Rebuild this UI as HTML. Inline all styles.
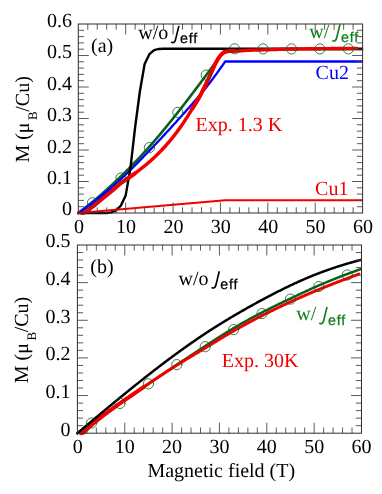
<!DOCTYPE html>
<html><head><meta charset="utf-8"><title>chart</title>
<style>html,body{margin:0;padding:0;background:#fff}body{width:382px;height:494px;overflow:hidden;font-family:"Liberation Serif",serif}</style>
</head><body>
<svg width="382" height="494" viewBox="0 0 382 494" style="display:block;will-change:transform;text-rendering:geometricPrecision">
<rect width="382" height="494" fill="#fff"/>
<defs>
<clipPath id="ca"><rect x="75.8" y="24.0" width="287.3" height="191.5"/></clipPath>
<clipPath id="cb"><rect x="74.9" y="245.0" width="287.1" height="190.7"/></clipPath>
</defs>
<g clip-path="url(#ca)" fill="none" stroke-linejoin="round" stroke-linecap="round">
<path d="M78.30 213.00 L78.77 212.65 L79.25 212.30 L79.72 211.94 L80.20 211.59 L80.67 211.23 L81.14 210.88 L81.62 210.52 L82.09 210.16 L82.56 209.80 L83.04 209.44 L83.51 209.08 L83.99 208.71 L84.46 208.35 L84.93 207.98 L85.41 207.62 L85.88 207.25 L86.36 206.88 L86.83 206.50 L87.30 206.13 L87.78 205.75 L88.25 205.38 L88.72 205.00 L89.20 204.62 L89.67 204.24 L90.15 203.85 L90.62 203.47 L91.09 203.08 L91.57 202.69 L92.04 202.30 L92.52 201.91 L92.99 201.52 L93.46 201.12 L93.94 200.73 L94.41 200.33 L94.88 199.93 L95.36 199.53 L95.83 199.13 L96.31 198.73 L96.78 198.33 L97.25 197.92 L97.73 197.52 L98.20 197.11 L98.67 196.70 L99.15 196.29 L99.62 195.88 L100.10 195.47 L100.57 195.06 L101.04 194.64 L101.52 194.23 L101.99 193.81 L102.47 193.40 L102.94 192.98 L103.41 192.56 L103.89 192.14 L104.36 191.72 L104.83 191.29 L105.31 190.87 L105.78 190.45 L106.26 190.02 L106.73 189.59 L107.20 189.16 L107.68 188.74 L108.15 188.31 L108.63 187.87 L109.10 187.44 L109.57 187.01 L110.05 186.57 L110.52 186.14 L110.99 185.70 L111.47 185.26 L111.94 184.83 L112.42 184.39 L112.89 183.95 L113.36 183.50 L113.84 183.06 L114.31 182.62 L114.79 182.17 L115.26 181.73 L115.73 181.28 L116.21 180.83 L116.68 180.38 L117.15 179.93 L117.63 179.48 L118.10 179.03 L118.58 178.58 L119.05 178.13 L119.52 177.67 L120.00 177.22 L120.47 176.76 L120.94 176.30 L121.42 175.84 L121.89 175.38 L122.37 174.92 L122.84 174.46 L123.31 174.00 L123.79 173.53 L124.26 173.07 L124.74 172.60 L125.21 172.14 L125.68 171.67 L126.16 171.20 L126.63 170.72 L127.10 170.25 L127.58 169.78 L128.05 169.30 L128.53 168.83 L129.00 168.35 L129.47 167.87 L129.95 167.39 L130.42 166.91 L130.90 166.43 L131.37 165.95 L131.84 165.46 L132.32 164.98 L132.79 164.49 L133.26 164.00 L133.74 163.51 L134.21 163.02 L134.69 162.53 L135.16 162.04 L135.63 161.54 L136.11 161.05 L136.58 160.55 L137.06 160.05 L137.53 159.56 L138.00 159.06 L138.48 158.55 L138.95 158.05 L139.42 157.55 L139.90 157.04 L140.37 156.54 L140.85 156.03 L141.32 155.52 L141.79 155.01 L142.27 154.50 L142.74 153.99 L143.22 153.48 L143.69 152.96 L144.16 152.45 L144.64 151.93 L145.11 151.41 L145.58 150.89 L146.06 150.37 L146.53 149.85 L147.01 149.33 L147.48 148.80 L147.95 148.28 L148.43 147.75 L148.90 147.22 L149.38 146.69 L149.85 146.16 L150.32 145.63 L150.80 145.09 L151.27 144.56 L151.74 144.02 L152.22 143.48 L152.69 142.94 L153.17 142.39 L153.64 141.85 L154.11 141.30 L154.59 140.75 L155.06 140.20 L155.53 139.65 L156.01 139.09 L156.48 138.54 L156.96 137.98 L157.43 137.42 L157.90 136.86 L158.38 136.30 L158.85 135.74 L159.33 135.17 L159.80 134.61 L160.27 134.04 L160.75 133.47 L161.22 132.90 L161.69 132.33 L162.17 131.76 L162.64 131.19 L163.12 130.61 L163.59 130.03 L164.06 129.46 L164.54 128.88 L165.01 128.30 L165.49 127.72 L165.96 127.14 L166.43 126.56 L166.91 125.98 L167.38 125.39 L167.85 124.81 L168.33 124.22 L168.80 123.64 L169.28 123.05 L169.75 122.46 L170.22 121.87 L170.70 121.28 L171.17 120.69 L171.65 120.10 L172.12 119.51 L172.59 118.92 L173.07 118.33 L173.54 117.74 L174.01 117.15 L174.49 116.55 L174.96 115.96 L175.44 115.36 L175.91 114.77 L176.38 114.17 L176.86 113.58 L177.33 112.98 L177.81 112.39 L178.28 111.79 L178.75 111.20 L179.23 110.60 L179.70 110.00 L180.17 109.40 L180.65 108.79 L181.12 108.19 L181.60 107.58 L182.07 106.98 L182.54 106.37 L183.02 105.76 L183.49 105.16 L183.96 104.55 L184.44 103.93 L184.91 103.32 L185.39 102.71 L185.86 102.10 L186.33 101.48 L186.81 100.86 L187.28 100.25 L187.76 99.63 L188.23 99.01 L188.70 98.39 L189.18 97.77 L189.65 97.15 L190.12 96.53 L190.60 95.91 L191.07 95.28 L191.55 94.66 L192.02 94.04 L192.49 93.41 L192.97 92.79 L193.44 92.16 L193.92 91.53 L194.39 90.91 L194.86 90.28 L195.34 89.65 L195.81 89.02 L196.28 88.39 L196.76 87.76 L197.23 87.13 L197.71 86.50 L198.18 85.87 L198.65 85.24 L199.13 84.60 L199.60 83.97 L200.08 83.34 L200.55 82.71 L201.02 82.07 L201.50 81.44 L201.97 80.80 L202.44 80.17 L202.92 79.54 L203.39 78.90 L203.87 78.27 L204.34 77.63 L204.81 77.00 L205.29 76.36 L205.76 75.73 L206.24 75.09 L206.71 74.46 L207.18 73.82 L207.66 73.18 L208.13 72.55 L208.60 71.91 L209.08 71.27 L209.55 70.63 L210.03 69.99 L210.50 69.35 L210.97 68.71 L211.45 68.07 L211.92 67.42 L212.39 66.78 L212.87 66.14 L213.34 65.49 L213.82 64.85 L214.29 64.20 L214.76 63.55 L215.24 62.91 L215.71 62.26 L216.19 61.61 L216.66 60.96 L217.13 60.31 L217.61 59.66 L218.08 59.01 L218.55 58.36 L219.03 57.71 L219.50 57.06 L219.98 56.41 L220.45 55.75 L220.92 55.10 L221.40 54.45 L221.87 53.79 L222.35 53.14 L222.82 52.48 L223.29 51.83 L223.77 51.17 L224.24 50.51 L224.71 49.86 L225.19 49.20 L225.66 49.20 L226.14 49.20 L226.61 49.20 L227.08 49.20 L227.56 49.20 L228.03 49.20 L228.51 49.20 L228.98 49.20 L229.45 49.20 L229.93 49.20 L230.40 49.20 L230.87 49.20 L231.35 49.20 L231.82 49.20 L232.30 49.20 L232.77 49.20 L233.24 49.20 L233.72 49.20 L234.19 49.20 L234.67 49.20 L235.14 49.20 L235.61 49.20 L236.09 49.20 L236.56 49.20 L237.03 49.20 L237.51 49.20 L237.98 49.20 L238.46 49.20 L238.93 49.20 L239.40 49.20 L239.88 49.20 L240.35 49.20 L240.82 49.20 L241.30 49.20 L241.77 49.20 L242.25 49.20 L242.72 49.20 L243.19 49.20 L243.67 49.20 L244.14 49.20 L244.62 49.20 L245.09 49.20 L245.56 49.20 L246.04 49.20 L246.51 49.20 L246.98 49.20 L247.46 49.20 L247.93 49.20 L248.41 49.20 L248.88 49.20 L249.35 49.20 L249.83 49.20 L250.30 49.20 L250.78 49.20 L251.25 49.20 L251.72 49.20 L252.20 49.20 L252.67 49.20 L253.14 49.20 L253.62 49.20 L254.09 49.20 L254.57 49.20 L255.04 49.20 L255.51 49.20 L255.99 49.20 L256.46 49.20 L256.94 49.20 L257.41 49.20 L257.88 49.20 L258.36 49.20 L258.83 49.20 L259.30 49.20 L259.78 49.20 L260.25 49.20 L260.73 49.20 L261.20 49.20 L261.67 49.20 L262.15 49.20 L262.62 49.20 L263.09 49.20 L263.57 49.20 L264.04 49.20 L264.52 49.20 L264.99 49.20 L265.46 49.20 L265.94 49.20 L266.41 49.20 L266.89 49.20 L267.36 49.20 L267.83 49.20 L268.31 49.20 L268.78 49.20 L269.25 49.20 L269.73 49.20 L270.20 49.20 L270.68 49.20 L271.15 49.20 L271.62 49.20 L272.10 49.20 L272.57 49.20 L273.05 49.20 L273.52 49.20 L273.99 49.20 L274.47 49.20 L274.94 49.20 L275.41 49.20 L275.89 49.20 L276.36 49.20 L276.84 49.20 L277.31 49.20 L277.78 49.20 L278.26 49.20 L278.73 49.20 L279.21 49.20 L279.68 49.20 L280.15 49.20 L280.63 49.20 L281.10 49.20 L281.57 49.20 L282.05 49.20 L282.52 49.20 L283.00 49.20 L283.47 49.20 L283.94 49.20 L284.42 49.20 L284.89 49.20 L285.37 49.20 L285.84 49.20 L286.31 49.20 L286.79 49.20 L287.26 49.20 L287.73 49.20 L288.21 49.20 L288.68 49.20 L289.16 49.20 L289.63 49.20 L290.10 49.20 L290.58 49.20 L291.05 49.20 L291.52 49.20 L292.00 49.20 L292.47 49.20 L292.95 49.20 L293.42 49.20 L293.89 49.20 L294.37 49.20 L294.84 49.20 L295.32 49.20 L295.79 49.20 L296.26 49.20 L296.74 49.20 L297.21 49.20 L297.68 49.20 L298.16 49.20 L298.63 49.20 L299.11 49.20 L299.58 49.20 L300.05 49.20 L300.53 49.20 L301.00 49.20 L301.48 49.20 L301.95 49.20 L302.42 49.20 L302.90 49.20 L303.37 49.20 L303.84 49.20 L304.32 49.20 L304.79 49.20 L305.27 49.20 L305.74 49.20 L306.21 49.20 L306.69 49.20 L307.16 49.20 L307.64 49.20 L308.11 49.20 L308.58 49.20 L309.06 49.20 L309.53 49.20 L310.00 49.20 L310.48 49.20 L310.95 49.20 L311.43 49.20 L311.90 49.20 L312.37 49.20 L312.85 49.20 L313.32 49.20 L313.80 49.20 L314.27 49.20 L314.74 49.20 L315.22 49.20 L315.69 49.20 L316.16 49.20 L316.64 49.20 L317.11 49.20 L317.59 49.20 L318.06 49.20 L318.53 49.20 L319.01 49.20 L319.48 49.20 L319.95 49.20 L320.43 49.20 L320.90 49.20 L321.38 49.20 L321.85 49.20 L322.32 49.20 L322.80 49.20 L323.27 49.20 L323.75 49.20 L324.22 49.20 L324.69 49.20 L325.17 49.20 L325.64 49.20 L326.11 49.20 L326.59 49.20 L327.06 49.20 L327.54 49.20 L328.01 49.20 L328.48 49.20 L328.96 49.20 L329.43 49.20 L329.91 49.20 L330.38 49.20 L330.85 49.20 L331.33 49.20 L331.80 49.20 L332.27 49.20 L332.75 49.20 L333.22 49.20 L333.70 49.20 L334.17 49.20 L334.64 49.20 L335.12 49.20 L335.59 49.20 L336.07 49.20 L336.54 49.20 L337.01 49.20 L337.49 49.20 L337.96 49.20 L338.43 49.20 L338.91 49.20 L339.38 49.20 L339.86 49.20 L340.33 49.20 L340.80 49.20 L341.28 49.20 L341.75 49.20 L342.23 49.20 L342.70 49.20 L343.17 49.20 L343.65 49.20 L344.12 49.20 L344.59 49.20 L345.07 49.20 L345.54 49.20 L346.02 49.20 L346.49 49.20 L346.96 49.20 L347.44 49.20 L347.91 49.20 L348.38 49.20 L348.86 49.20 L349.33 49.20 L349.81 49.20 L350.28 49.20 L350.75 49.20 L351.23 49.20 L351.70 49.20 L352.18 49.20 L352.65 49.20 L353.12 49.20 L353.60 49.20 L354.07 49.20 L354.54 49.20 L355.02 49.20 L355.49 49.20 L355.97 49.20 L356.44 49.20 L356.91 49.20 L357.39 49.20 L357.86 49.20 L358.34 49.20 L358.81 49.20 L359.28 49.20 L359.76 49.20 L360.23 49.20 L360.70 49.20 L361.18 49.20 L361.65 49.20 L362.13 49.20 L362.60 49.20" stroke="#0b5f1e" stroke-width="2.6"/>
<path d="M78.30 213.00 L78.77 212.68 L79.25 212.35 L79.72 212.03 L80.20 211.70 L80.67 211.37 L81.14 211.04 L81.62 210.72 L82.09 210.38 L82.56 210.05 L83.04 209.72 L83.51 209.38 L83.99 209.05 L84.46 208.71 L84.93 208.37 L85.41 208.03 L85.88 207.69 L86.36 207.35 L86.83 207.01 L87.30 206.66 L87.78 206.32 L88.25 205.97 L88.72 205.62 L89.20 205.27 L89.67 204.91 L90.15 204.56 L90.62 204.20 L91.09 203.85 L91.57 203.49 L92.04 203.13 L92.52 202.76 L92.99 202.40 L93.46 202.03 L93.94 201.67 L94.41 201.30 L94.88 200.93 L95.36 200.56 L95.83 200.19 L96.31 199.82 L96.78 199.45 L97.25 199.07 L97.73 198.70 L98.20 198.32 L98.67 197.95 L99.15 197.57 L99.62 197.19 L100.10 196.81 L100.57 196.43 L101.04 196.05 L101.52 195.66 L101.99 195.28 L102.47 194.89 L102.94 194.51 L103.41 194.12 L103.89 193.73 L104.36 193.34 L104.83 192.95 L105.31 192.56 L105.78 192.17 L106.26 191.77 L106.73 191.38 L107.20 190.98 L107.68 190.58 L108.15 190.18 L108.63 189.78 L109.10 189.38 L109.57 188.98 L110.05 188.58 L110.52 188.17 L110.99 187.77 L111.47 187.36 L111.94 186.95 L112.42 186.54 L112.89 186.13 L113.36 185.72 L113.84 185.31 L114.31 184.90 L114.79 184.48 L115.26 184.07 L115.73 183.65 L116.21 183.23 L116.68 182.81 L117.15 182.39 L117.63 181.97 L118.10 181.54 L118.58 181.12 L119.05 180.69 L119.52 180.27 L120.00 179.84 L120.47 179.41 L120.94 178.98 L121.42 178.55 L121.89 178.11 L122.37 177.68 L122.84 177.24 L123.31 176.80 L123.79 176.36 L124.26 175.91 L124.74 175.47 L125.21 175.02 L125.68 174.57 L126.16 174.12 L126.63 173.66 L127.10 173.21 L127.58 172.75 L128.05 172.29 L128.53 171.83 L129.00 171.37 L129.47 170.91 L129.95 170.44 L130.42 169.98 L130.90 169.51 L131.37 169.04 L131.84 168.57 L132.32 168.10 L132.79 167.63 L133.26 167.15 L133.74 166.68 L134.21 166.20 L134.69 165.73 L135.16 165.25 L135.63 164.77 L136.11 164.29 L136.58 163.81 L137.06 163.33 L137.53 162.84 L138.00 162.36 L138.48 161.88 L138.95 161.39 L139.42 160.91 L139.90 160.42 L140.37 159.93 L140.85 159.45 L141.32 158.96 L141.79 158.47 L142.27 157.98 L142.74 157.49 L143.22 157.00 L143.69 156.52 L144.16 156.03 L144.64 155.54 L145.11 155.05 L145.58 154.55 L146.06 154.06 L146.53 153.57 L147.01 153.08 L147.48 152.59 L147.95 152.10 L148.43 151.61 L148.90 151.12 L149.38 150.63 L149.85 150.14 L150.32 149.65 L150.80 149.16 L151.27 148.66 L151.74 148.17 L152.22 147.68 L152.69 147.18 L153.17 146.69 L153.64 146.19 L154.11 145.69 L154.59 145.20 L155.06 144.70 L155.53 144.20 L156.01 143.70 L156.48 143.20 L156.96 142.70 L157.43 142.20 L157.90 141.70 L158.38 141.20 L158.85 140.69 L159.33 140.19 L159.80 139.69 L160.27 139.18 L160.75 138.67 L161.22 138.17 L161.69 137.66 L162.17 137.15 L162.64 136.65 L163.12 136.14 L163.59 135.63 L164.06 135.12 L164.54 134.61 L165.01 134.10 L165.49 133.59 L165.96 133.07 L166.43 132.56 L166.91 132.05 L167.38 131.53 L167.85 131.02 L168.33 130.50 L168.80 129.99 L169.28 129.47 L169.75 128.95 L170.22 128.44 L170.70 127.92 L171.17 127.40 L171.65 126.88 L172.12 126.36 L172.59 125.84 L173.07 125.32 L173.54 124.80 L174.01 124.27 L174.49 123.75 L174.96 123.23 L175.44 122.70 L175.91 122.18 L176.38 121.65 L176.86 121.13 L177.33 120.60 L177.81 120.08 L178.28 119.55 L178.75 119.02 L179.23 118.50 L179.70 117.97 L180.17 117.44 L180.65 116.92 L181.12 116.39 L181.60 115.87 L182.07 115.34 L182.54 114.82 L183.02 114.29 L183.49 113.76 L183.96 113.24 L184.44 112.71 L184.91 112.18 L185.39 111.66 L185.86 111.13 L186.33 110.60 L186.81 110.07 L187.28 109.54 L187.76 109.01 L188.23 108.48 L188.70 107.95 L189.18 107.42 L189.65 106.88 L190.12 106.35 L190.60 105.82 L191.07 105.28 L191.55 104.74 L192.02 104.21 L192.49 103.67 L192.97 103.13 L193.44 102.58 L193.92 102.04 L194.39 101.50 L194.86 100.95 L195.34 100.41 L195.81 99.86 L196.28 99.31 L196.76 98.76 L197.23 98.20 L197.71 97.65 L198.18 97.09 L198.65 96.53 L199.13 95.97 L199.60 95.41 L200.08 94.85 L200.55 94.28 L201.02 93.71 L201.50 93.14 L201.97 92.57 L202.44 92.00 L202.92 91.42 L203.39 90.84 L203.87 90.26 L204.34 89.67 L204.81 89.09 L205.29 88.50 L205.76 87.91 L206.24 87.31 L206.71 86.72 L207.18 86.12 L207.66 85.52 L208.13 84.91 L208.60 84.30 L209.08 83.69 L209.55 83.08 L210.03 82.46 L210.50 81.84 L210.97 81.22 L211.45 80.59 L211.92 79.96 L212.39 79.33 L212.87 78.70 L213.34 78.07 L213.82 77.43 L214.29 76.79 L214.76 76.15 L215.24 75.50 L215.71 74.85 L216.19 74.20 L216.66 73.55 L217.13 72.90 L217.61 72.24 L218.08 71.58 L218.55 70.92 L219.03 70.26 L219.50 69.60 L219.98 68.93 L220.45 68.26 L220.92 67.59 L221.40 66.92 L221.87 66.25 L222.35 65.57 L222.82 64.89 L223.29 64.22 L223.77 63.54 L224.24 62.85 L224.71 62.17 L225.19 61.49 L225.66 61.49 L226.14 61.49 L226.61 61.49 L227.08 61.49 L227.56 61.49 L228.03 61.49 L228.51 61.49 L228.98 61.49 L229.45 61.49 L229.93 61.49 L230.40 61.49 L230.87 61.49 L231.35 61.49 L231.82 61.49 L232.30 61.49 L232.77 61.49 L233.24 61.49 L233.72 61.49 L234.19 61.49 L234.67 61.49 L235.14 61.49 L235.61 61.49 L236.09 61.49 L236.56 61.49 L237.03 61.49 L237.51 61.49 L237.98 61.49 L238.46 61.49 L238.93 61.49 L239.40 61.49 L239.88 61.49 L240.35 61.49 L240.82 61.49 L241.30 61.49 L241.77 61.49 L242.25 61.49 L242.72 61.49 L243.19 61.49 L243.67 61.49 L244.14 61.49 L244.62 61.49 L245.09 61.49 L245.56 61.49 L246.04 61.49 L246.51 61.49 L246.98 61.49 L247.46 61.49 L247.93 61.49 L248.41 61.49 L248.88 61.49 L249.35 61.49 L249.83 61.49 L250.30 61.49 L250.78 61.49 L251.25 61.49 L251.72 61.49 L252.20 61.49 L252.67 61.49 L253.14 61.49 L253.62 61.49 L254.09 61.49 L254.57 61.49 L255.04 61.49 L255.51 61.49 L255.99 61.49 L256.46 61.49 L256.94 61.49 L257.41 61.49 L257.88 61.49 L258.36 61.49 L258.83 61.49 L259.30 61.49 L259.78 61.49 L260.25 61.49 L260.73 61.49 L261.20 61.49 L261.67 61.49 L262.15 61.49 L262.62 61.49 L263.09 61.49 L263.57 61.49 L264.04 61.49 L264.52 61.49 L264.99 61.49 L265.46 61.49 L265.94 61.49 L266.41 61.49 L266.89 61.49 L267.36 61.49 L267.83 61.49 L268.31 61.49 L268.78 61.49 L269.25 61.49 L269.73 61.49 L270.20 61.49 L270.68 61.49 L271.15 61.49 L271.62 61.49 L272.10 61.49 L272.57 61.49 L273.05 61.49 L273.52 61.49 L273.99 61.49 L274.47 61.49 L274.94 61.49 L275.41 61.49 L275.89 61.49 L276.36 61.49 L276.84 61.49 L277.31 61.49 L277.78 61.49 L278.26 61.49 L278.73 61.49 L279.21 61.49 L279.68 61.49 L280.15 61.49 L280.63 61.49 L281.10 61.49 L281.57 61.49 L282.05 61.49 L282.52 61.49 L283.00 61.49 L283.47 61.49 L283.94 61.49 L284.42 61.49 L284.89 61.49 L285.37 61.49 L285.84 61.49 L286.31 61.49 L286.79 61.49 L287.26 61.49 L287.73 61.49 L288.21 61.49 L288.68 61.49 L289.16 61.49 L289.63 61.49 L290.10 61.49 L290.58 61.49 L291.05 61.49 L291.52 61.49 L292.00 61.49 L292.47 61.49 L292.95 61.49 L293.42 61.49 L293.89 61.49 L294.37 61.49 L294.84 61.49 L295.32 61.49 L295.79 61.49 L296.26 61.49 L296.74 61.49 L297.21 61.49 L297.68 61.49 L298.16 61.49 L298.63 61.49 L299.11 61.49 L299.58 61.49 L300.05 61.49 L300.53 61.49 L301.00 61.49 L301.48 61.49 L301.95 61.49 L302.42 61.49 L302.90 61.49 L303.37 61.49 L303.84 61.49 L304.32 61.49 L304.79 61.49 L305.27 61.49 L305.74 61.49 L306.21 61.49 L306.69 61.49 L307.16 61.49 L307.64 61.49 L308.11 61.49 L308.58 61.49 L309.06 61.49 L309.53 61.49 L310.00 61.49 L310.48 61.49 L310.95 61.49 L311.43 61.49 L311.90 61.49 L312.37 61.49 L312.85 61.49 L313.32 61.49 L313.80 61.49 L314.27 61.49 L314.74 61.49 L315.22 61.49 L315.69 61.49 L316.16 61.49 L316.64 61.49 L317.11 61.49 L317.59 61.49 L318.06 61.49 L318.53 61.49 L319.01 61.49 L319.48 61.49 L319.95 61.49 L320.43 61.49 L320.90 61.49 L321.38 61.49 L321.85 61.49 L322.32 61.49 L322.80 61.49 L323.27 61.49 L323.75 61.49 L324.22 61.49 L324.69 61.49 L325.17 61.49 L325.64 61.49 L326.11 61.49 L326.59 61.49 L327.06 61.49 L327.54 61.49 L328.01 61.49 L328.48 61.49 L328.96 61.49 L329.43 61.49 L329.91 61.49 L330.38 61.49 L330.85 61.49 L331.33 61.49 L331.80 61.49 L332.27 61.49 L332.75 61.49 L333.22 61.49 L333.70 61.49 L334.17 61.49 L334.64 61.49 L335.12 61.49 L335.59 61.49 L336.07 61.49 L336.54 61.49 L337.01 61.49 L337.49 61.49 L337.96 61.49 L338.43 61.49 L338.91 61.49 L339.38 61.49 L339.86 61.49 L340.33 61.49 L340.80 61.49 L341.28 61.49 L341.75 61.49 L342.23 61.49 L342.70 61.49 L343.17 61.49 L343.65 61.49 L344.12 61.49 L344.59 61.49 L345.07 61.49 L345.54 61.49 L346.02 61.49 L346.49 61.49 L346.96 61.49 L347.44 61.49 L347.91 61.49 L348.38 61.49 L348.86 61.49 L349.33 61.49 L349.81 61.49 L350.28 61.49 L350.75 61.49 L351.23 61.49 L351.70 61.49 L352.18 61.49 L352.65 61.49 L353.12 61.49 L353.60 61.49 L354.07 61.49 L354.54 61.49 L355.02 61.49 L355.49 61.49 L355.97 61.49 L356.44 61.49 L356.91 61.49 L357.39 61.49 L357.86 61.49 L358.34 61.49 L358.81 61.49 L359.28 61.49 L359.76 61.49 L360.23 61.49 L360.70 61.49 L361.18 61.49 L361.65 61.49 L362.13 61.49 L362.60 61.49" stroke="#0000ff" stroke-width="2.3"/>
<path d="M78.30 213.00 L83.04 213.00 L87.78 213.00 L92.52 213.00 L97.25 213.00 L101.99 213.00 L106.73 213.00 L111.47 212.37 L116.21 210.39 L120.94 205.50 L125.68 195.39 L130.42 168.27 L135.16 126.86 L139.90 91.26 L144.64 64.00 L149.38 54.15 L154.11 50.05 L158.85 48.95 L163.59 48.82 L168.33 48.82 L173.07 48.82 L177.81 48.82 L182.54 48.82 L187.28 48.82 L192.02 48.82 L196.76 48.82 L201.50 48.82 L206.24 48.82 L210.97 48.82 L215.71 48.82 L220.45 48.82 L225.19 48.82 L229.93 48.82 L234.67 48.82 L239.40 48.82 L244.14 48.82 L248.88 48.82 L253.62 48.82 L258.36 48.82 L263.09 48.82 L267.83 48.82 L272.57 48.82 L277.31 48.82 L282.05 48.82 L286.79 48.82 L291.52 48.82 L296.26 48.82 L301.00 48.82 L305.74 48.82 L310.48 48.82 L315.22 48.82 L319.95 48.82 L324.69 48.82 L329.43 48.82 L334.17 48.82 L338.91 48.82 L343.65 48.82 L348.38 48.82 L353.12 48.82 L357.86 48.82 L362.60 48.82" stroke="#000" stroke-width="2.4"/>
<path d="M81.85 213.00 L82.31 213.00 L82.77 212.99 L83.23 212.91 L83.69 212.76 L84.15 212.57 L84.61 212.36 L85.07 212.15 L85.53 211.92 L85.99 211.64 L86.45 211.33 L86.90 211.01 L87.36 210.67 L87.82 210.32 L88.28 209.98 L88.74 209.64 L89.20 209.28 L89.66 208.91 L90.12 208.54 L90.58 208.15 L91.04 207.77 L91.50 207.38 L91.96 207.00 L92.42 206.62 L92.87 206.25 L93.33 205.88 L93.79 205.52 L94.25 205.15 L94.71 204.78 L95.17 204.41 L95.63 204.05 L96.09 203.68 L96.55 203.32 L97.01 202.95 L97.47 202.59 L97.93 202.22 L98.38 201.85 L98.84 201.49 L99.30 201.12 L99.76 200.75 L100.22 200.38 L100.68 200.01 L101.14 199.64 L101.60 199.27 L102.06 198.90 L102.52 198.53 L102.98 198.16 L103.44 197.79 L103.90 197.42 L104.35 197.04 L104.81 196.67 L105.27 196.30 L105.73 195.92 L106.19 195.55 L106.65 195.17 L107.11 194.80 L107.57 194.42 L108.03 194.04 L108.49 193.67 L108.95 193.29 L109.41 192.91 L109.86 192.53 L110.32 192.16 L110.78 191.78 L111.24 191.39 L111.70 191.01 L112.16 190.63 L112.62 190.25 L113.08 189.86 L113.54 189.47 L114.00 189.08 L114.46 188.69 L114.92 188.29 L115.38 187.88 L115.83 187.47 L116.29 187.06 L116.75 186.64 L117.21 186.23 L117.67 185.81 L118.13 185.40 L118.59 185.00 L119.05 184.60 L119.51 184.21 L119.97 183.83 L120.43 183.46 L120.89 183.10 L121.34 182.76 L121.80 182.42 L122.26 182.10 L122.72 181.78 L123.18 181.47 L123.64 181.16 L124.10 180.86 L124.56 180.56 L125.02 180.26 L125.48 179.97 L125.94 179.67 L126.40 179.37 L126.86 179.07 L127.31 178.77 L127.77 178.46 L128.23 178.14 L128.69 177.82 L129.15 177.50 L129.61 177.18 L130.07 176.86 L130.53 176.54 L130.99 176.21 L131.45 175.89 L131.91 175.56 L132.37 175.24 L132.82 174.91 L133.28 174.58 L133.74 174.25 L134.20 173.91 L134.66 173.58 L135.12 173.24 L135.58 172.90 L136.04 172.56 L136.50 172.22 L136.96 171.88 L137.42 171.53 L137.88 171.19 L138.34 170.84 L138.79 170.49 L139.25 170.14 L139.71 169.78 L140.17 169.43 L140.63 169.07 L141.09 168.71 L141.55 168.35 L142.01 167.99 L142.47 167.62 L142.93 167.25 L143.39 166.88 L143.85 166.51 L144.30 166.14 L144.76 165.76 L145.22 165.38 L145.68 165.00 L146.14 164.62 L146.60 164.23 L147.06 163.84 L147.52 163.45 L147.98 163.06 L148.44 162.67 L148.90 162.27 L149.36 161.87 L149.82 161.46 L150.27 161.06 L150.73 160.65 L151.19 160.24 L151.65 159.83 L152.11 159.41 L152.57 158.99 L153.03 158.57 L153.49 158.14 L153.95 157.72 L154.41 157.29 L154.87 156.85 L155.33 156.42 L155.78 155.98 L156.24 155.53 L156.70 155.09 L157.16 154.64 L157.62 154.19 L158.08 153.73 L158.54 153.28 L159.00 152.81 L159.46 152.35 L159.92 151.88 L160.38 151.41 L160.84 150.94 L161.30 150.46 L161.75 149.98 L162.21 149.49 L162.67 149.00 L163.13 148.51 L163.59 148.02 L164.05 147.52 L164.51 147.02 L164.97 146.51 L165.43 146.00 L165.89 145.49 L166.35 144.97 L166.81 144.45 L167.26 143.92 L167.72 143.40 L168.18 142.86 L168.64 142.33 L169.10 141.79 L169.56 141.24 L170.02 140.70 L170.48 140.14 L170.94 139.59 L171.40 139.03 L171.86 138.46 L172.32 137.89 L172.78 137.32 L173.23 136.74 L173.69 136.16 L174.15 135.58 L174.61 134.99 L175.07 134.39 L175.53 133.79 L175.99 133.19 L176.45 132.58 L176.91 131.97 L177.37 131.36 L177.83 130.74 L178.29 130.11 L178.74 129.48 L179.20 128.85 L179.66 128.21 L180.12 127.56 L180.58 126.92 L181.04 126.26 L181.50 125.60 L181.96 124.94 L182.42 124.27 L182.88 123.60 L183.34 122.92 L183.80 122.24 L184.26 121.55 L184.71 120.86 L185.17 120.16 L185.63 119.45 L186.09 118.74 L186.55 118.02 L187.01 117.29 L187.47 116.55 L187.93 115.81 L188.39 115.07 L188.85 114.32 L189.31 113.57 L189.77 112.82 L190.22 112.07 L190.68 111.31 L191.14 110.56 L191.60 109.82 L192.06 109.07 L192.52 108.33 L192.98 107.60 L193.44 106.87 L193.90 106.15 L194.36 105.42 L194.82 104.70 L195.28 103.97 L195.74 103.24 L196.19 102.51 L196.65 101.76 L197.11 101.01 L197.57 100.24 L198.03 99.47 L198.49 98.68 L198.95 97.87 L199.41 97.04 L199.87 96.20 L200.33 95.33 L200.79 94.44 L201.25 93.54 L201.70 92.63 L202.16 91.71 L202.62 90.78 L203.08 89.85 L203.54 88.92 L204.00 87.99 L204.46 87.05 L204.92 86.11 L205.38 85.17 L205.84 84.22 L206.30 83.26 L206.76 82.30 L207.22 81.34 L207.67 80.37 L208.13 79.41 L208.59 78.43 L209.05 77.46 L209.51 76.49 L209.97 75.51 L210.43 74.53 L210.89 73.53 L211.35 72.51 L211.81 71.48 L212.27 70.44 L212.73 69.40 L213.18 68.36 L213.64 67.33 L214.10 66.32 L214.56 65.34 L215.02 64.38 L215.48 63.45 L215.94 62.57 L216.40 61.73 L216.86 60.91 L217.32 60.11 L217.78 59.34 L218.24 58.59 L218.70 57.89 L219.15 57.23 L219.61 56.62 L220.07 56.03 L220.53 55.46 L220.99 54.92 L221.45 54.43 L221.91 53.98 L222.37 53.59 L222.83 53.23 L223.29 52.89 L223.75 52.58 L224.21 52.30 L224.66 52.07 L225.12 51.90 L225.58 51.77 L226.04 51.65 L226.50 51.54 L226.96 51.44 L227.42 51.35 L227.88 51.28 L228.34 51.22 L228.80 51.18 L229.26 51.16 L229.72 51.15 L230.18 51.15 L230.63 51.15 L231.09 51.15 L231.55 51.15 L232.01 51.15 L232.47 51.15 L232.93 51.15 L233.39 51.15 L233.85 51.15 L234.31 51.15 L234.77 51.15 L235.23 51.15 L235.69 51.14 L236.14 51.13 L236.60 51.12 L237.06 51.10 L237.52 51.08 L237.98 51.06 L238.44 51.03 L238.90 51.01 L239.36 50.98 L239.82 50.95 L240.28 50.91 L240.74 50.88 L241.20 50.84 L241.66 50.81 L242.11 50.77 L242.57 50.73 L243.03 50.69 L243.49 50.66 L243.95 50.62 L244.41 50.58 L244.87 50.55 L245.33 50.51 L245.79 50.48 L246.25 50.45 L246.71 50.42 L247.17 50.39 L247.62 50.36 L248.08 50.34 L248.54 50.32 L249.00 50.30 L249.46 50.28 L249.92 50.26 L250.38 50.25 L250.84 50.23 L251.30 50.22 L251.76 50.20 L252.22 50.19 L252.68 50.17 L253.14 50.16 L253.59 50.15 L254.05 50.13 L254.51 50.12 L254.97 50.11 L255.43 50.10 L255.89 50.08 L256.35 50.07 L256.81 50.06 L257.27 50.05 L257.73 50.04 L258.19 50.02 L258.65 50.01 L259.10 50.00 L259.56 49.99 L260.02 49.98 L260.48 49.97 L260.94 49.95 L261.40 49.94 L261.86 49.93 L262.32 49.92 L262.78 49.90 L263.24 49.89 L263.70 49.88 L264.16 49.86 L264.61 49.85 L265.07 49.83 L265.53 49.82 L265.99 49.80 L266.45 49.79 L266.91 49.78 L267.37 49.76 L267.83 49.75 L268.29 49.73 L268.75 49.72 L269.21 49.70 L269.67 49.68 L270.13 49.67 L270.58 49.65 L271.04 49.64 L271.50 49.62 L271.96 49.61 L272.42 49.59 L272.88 49.58 L273.34 49.56 L273.80 49.54 L274.26 49.53 L274.72 49.51 L275.18 49.50 L275.64 49.48 L276.09 49.47 L276.55 49.45 L277.01 49.44 L277.47 49.42 L277.93 49.41 L278.39 49.39 L278.85 49.38 L279.31 49.36 L279.77 49.35 L280.23 49.33 L280.69 49.32 L281.15 49.30 L281.61 49.29 L282.06 49.28 L282.52 49.26 L282.98 49.25 L283.44 49.23 L283.90 49.22 L284.36 49.21 L284.82 49.20 L285.28 49.18 L285.74 49.17 L286.20 49.16 L286.66 49.15 L287.12 49.14 L287.57 49.13 L288.03 49.11 L288.49 49.10 L288.95 49.09 L289.41 49.08 L289.87 49.07 L290.33 49.06 L290.79 49.06 L291.25 49.05 L291.71 49.04 L292.17 49.03 L292.63 49.02 L293.09 49.02 L293.54 49.01 L294.00 49.00 L294.46 48.99 L294.92 48.99 L295.38 48.98 L295.84 48.97 L296.30 48.96 L296.76 48.96 L297.22 48.95 L297.68 48.94 L298.14 48.94 L298.60 48.93 L299.05 48.92 L299.51 48.92 L299.97 48.91 L300.43 48.90 L300.89 48.90 L301.35 48.89 L301.81 48.89 L302.27 48.88 L302.73 48.87 L303.19 48.87 L303.65 48.86 L304.11 48.86 L304.57 48.85 L305.02 48.85 L305.48 48.84 L305.94 48.83 L306.40 48.83 L306.86 48.82 L307.32 48.82 L307.78 48.81 L308.24 48.81 L308.70 48.80 L309.16 48.80 L309.62 48.79 L310.08 48.79 L310.53 48.78 L310.99 48.78 L311.45 48.77 L311.91 48.77 L312.37 48.76 L312.83 48.76 L313.29 48.75 L313.75 48.75 L314.21 48.74 L314.67 48.74 L315.13 48.73 L315.59 48.73 L316.05 48.72 L316.50 48.72 L316.96 48.71 L317.42 48.71 L317.88 48.70 L318.34 48.70 L318.80 48.69 L319.26 48.69 L319.72 48.69 L320.18 48.68 L320.64 48.68 L321.10 48.67 L321.56 48.67 L322.01 48.66 L322.47 48.66 L322.93 48.65 L323.39 48.65 L323.85 48.64 L324.31 48.64 L324.77 48.63 L325.23 48.63 L325.69 48.62 L326.15 48.62 L326.61 48.61 L327.07 48.61 L327.53 48.60 L327.98 48.60 L328.44 48.59 L328.90 48.59 L329.36 48.58 L329.82 48.58 L330.28 48.57 L330.74 48.57 L331.20 48.56 L331.66 48.56 L332.12 48.56 L332.58 48.55 L333.04 48.55 L333.49 48.54 L333.95 48.54 L334.41 48.53 L334.87 48.53 L335.33 48.52 L335.79 48.52 L336.25 48.51 L336.71 48.51 L337.17 48.51 L337.63 48.50 L338.09 48.50 L338.55 48.49 L339.01 48.49 L339.46 48.48 L339.92 48.48 L340.38 48.47 L340.84 48.47 L341.30 48.47 L341.76 48.46 L342.22 48.46 L342.68 48.45 L343.14 48.45 L343.60 48.44 L344.06 48.44 L344.52 48.44 L344.97 48.43 L345.43 48.43 L345.89 48.42 L346.35 48.42 L346.81 48.41 L347.27 48.41 L347.73 48.41 L348.19 48.40 L348.65 48.40 L349.11 48.39 L349.57 48.39 L350.03 48.39 L350.49 48.38 L350.94 48.38 L351.40 48.37 L351.86 48.37 L352.32 48.37 L352.78 48.36 L353.24 48.36 L353.70 48.35 L354.16 48.35 L354.62 48.35 L355.08 48.34 L355.54 48.34 L356.00 48.34 L356.45 48.33 L356.91 48.33" stroke="#f20000" stroke-width="3.4"/>
<path d="M81.85 213.00 L82.31 213.00 L82.77 212.99 L83.23 212.91 L83.69 212.76 L84.15 212.57 L84.61 212.36 L85.07 212.15 L85.53 211.92 L85.99 211.64 L86.45 211.33 L86.90 211.01 L87.36 210.67 L87.82 210.32 L88.28 209.98 L88.74 209.64 L89.20 209.28 L89.66 208.91 L90.12 208.54 L90.58 208.15 L91.04 207.77 L91.50 207.38 L91.96 207.00 L92.42 206.62 L92.87 206.25 L93.33 205.88 L93.79 205.52 L94.25 205.15 L94.71 204.78 L95.17 204.41 L95.63 204.05 L96.09 203.68 L96.55 203.32 L97.01 202.95 L97.47 202.59 L97.93 202.22 L98.38 201.85 L98.84 201.49 L99.30 201.12 L99.76 200.75 L100.22 200.38 L100.68 200.01 L101.14 199.64 L101.60 199.27 L102.06 198.90 L102.52 198.53 L102.98 198.16 L103.44 197.79 L103.90 197.42 L104.35 197.04 L104.81 196.67 L105.27 196.30 L105.73 195.92 L106.19 195.55 L106.65 195.17 L107.11 194.80 L107.57 194.42 L108.03 194.04 L108.49 193.67 L108.95 193.29 L109.41 192.91 L109.86 192.53 L110.32 192.16 L110.78 191.78 L111.24 191.39 L111.70 191.01 L112.16 190.63 L112.62 190.25 L113.08 189.86 L113.54 189.47 L114.00 189.08 L114.46 188.69 L114.92 188.29 L115.38 187.88 L115.83 187.47 L116.29 187.06 L116.75 186.64 L117.21 186.23 L117.67 185.81 L118.13 185.40 L118.59 185.00 L119.05 184.60 L119.51 184.21 L119.97 183.83 L120.43 183.46 L120.89 183.10 L121.34 182.76 L121.80 182.42 L122.26 182.10 L122.72 181.78 L123.18 181.47 L123.64 181.16 L124.10 180.86 L124.56 180.56 L125.02 180.26 L125.48 179.97 L125.94 179.67 L126.40 179.37 L126.86 179.07 L127.31 178.77 L127.77 178.46 L128.23 178.14 L128.69 177.82 L129.15 177.50 L129.61 177.18 L130.07 176.86 L130.53 176.54 L130.99 176.21 L131.45 175.89 L131.91 175.56 L132.37 175.24 L132.82 174.91 L133.28 174.58 L133.74 174.25 L134.20 173.91 L134.66 173.58 L135.12 173.24" stroke="#f20000" stroke-width="4.0"/>
<path d="M192.06 109.07 L192.52 108.33 L192.98 107.60 L193.44 106.87 L193.90 106.15 L194.36 105.42 L194.82 104.70 L195.28 103.97 L195.74 103.24 L196.19 102.51 L196.65 101.76 L197.11 101.01 L197.57 100.24 L198.03 99.47 L198.49 98.68 L198.95 97.87 L199.41 97.04 L199.87 96.20 L200.33 95.33 L200.79 94.44 L201.25 93.54 L201.70 92.63 L202.16 91.71 L202.62 90.78 L203.08 89.85 L203.54 88.92 L204.00 87.99 L204.46 87.05 L204.92 86.11 L205.38 85.17 L205.84 84.22 L206.30 83.26 L206.76 82.30 L207.22 81.34 L207.67 80.37 L208.13 79.41 L208.59 78.43 L209.05 77.46 L209.51 76.49 L209.97 75.51 L210.43 74.53 L210.89 73.53 L211.35 72.51 L211.81 71.48 L212.27 70.44 L212.73 69.40 L213.18 68.36 L213.64 67.33 L214.10 66.32 L214.56 65.34 L215.02 64.38 L215.48 63.45 L215.94 62.57 L216.40 61.73 L216.86 60.91 L217.32 60.11 L217.78 59.34 L218.24 58.59 L218.70 57.89 L219.15 57.23 L219.61 56.62 L220.07 56.03 L220.53 55.46 L220.99 54.92 L221.45 54.43 L221.91 53.98 L222.37 53.59 L222.83 53.23 L223.29 52.89 L223.75 52.58 L224.21 52.30 L224.66 52.07 L225.12 51.90 L225.58 51.77 L226.04 51.65 L226.50 51.54 L226.96 51.44 L227.42 51.35 L227.88 51.28 L228.34 51.22 L228.80 51.18 L229.26 51.16 L229.72 51.15 L230.18 51.15 L230.63 51.15 L231.09 51.15 L231.55 51.15 L232.01 51.15 L232.47 51.15 L232.93 51.15 L233.39 51.15 L233.85 51.15 L234.31 51.15" stroke="#f20000" stroke-width="3.9"/>
<path d="M78.30 213.00 L78.77 212.68 L79.25 212.35 L79.72 212.03 L80.20 211.70 L80.67 211.37 L81.14 211.04 L81.62 210.72 L82.09 210.38 L82.56 210.05 L83.04 209.72 L83.51 209.38 L83.99 209.05 L84.46 208.71 L84.93 208.37 L85.41 208.03 L85.88 207.69 L86.36 207.35 L86.83 207.01 L87.30 206.66 L87.78 206.32 L88.25 205.97 L88.72 205.62 L89.20 205.27 L89.67 204.91 L90.15 204.56 L90.62 204.20 L91.09 203.85 L91.57 203.49 L92.04 203.13 L92.52 202.76 L92.99 202.40 L93.46 202.03 L93.94 201.67 L94.41 201.30 L94.88 200.93 L95.36 200.56 L95.83 200.19 L96.31 199.82 L96.78 199.45 L97.25 199.07 L97.73 198.70 L98.20 198.32 L98.67 197.95 L99.15 197.57 L99.62 197.19 L100.10 196.81 L100.57 196.43 L101.04 196.05 L101.52 195.66 L101.99 195.28 L102.47 194.89 L102.94 194.51 L103.41 194.12 L103.89 193.73 L104.36 193.34 L104.83 192.95 L105.31 192.56 L105.78 192.17 L106.26 191.77 L106.73 191.38 L107.20 190.98 L107.68 190.58 L108.15 190.18 L108.63 189.78 L109.10 189.38 L109.57 188.98 L110.05 188.58 L110.52 188.17 L110.99 187.77 L111.47 187.36" stroke="#0000ff" stroke-width="2.3"/>
<path d="M78.30 213.00 L78.77 212.96 L79.25 212.92 L79.72 212.88 L80.20 212.84 L80.67 212.79 L81.14 212.75 L81.62 212.71 L82.09 212.67 L82.56 212.63 L83.04 212.59 L83.51 212.55 L83.99 212.51 L84.46 212.47 L84.93 212.42 L85.41 212.38 L85.88 212.34 L86.36 212.30 L86.83 212.26 L87.30 212.22 L87.78 212.18 L88.25 212.14 L88.72 212.09 L89.20 212.05 L89.67 212.01 L90.15 211.97 L90.62 211.93 L91.09 211.89 L91.57 211.85 L92.04 211.81 L92.52 211.77 L92.99 211.72 L93.46 211.68 L93.94 211.64 L94.41 211.60 L94.88 211.56 L95.36 211.52 L95.83 211.48 L96.31 211.44 L96.78 211.40 L97.25 211.35 L97.73 211.31 L98.20 211.27 L98.67 211.23 L99.15 211.19 L99.62 211.15 L100.10 211.11 L100.57 211.07 L101.04 211.02 L101.52 210.98 L101.99 210.94 L102.47 210.90 L102.94 210.86 L103.41 210.82 L103.89 210.78 L104.36 210.74 L104.83 210.70 L105.31 210.65 L105.78 210.61 L106.26 210.57 L106.73 210.53 L107.20 210.49 L107.68 210.45 L108.15 210.41 L108.63 210.37 L109.10 210.33 L109.57 210.28 L110.05 210.24 L110.52 210.20 L110.99 210.16 L111.47 210.12 L111.94 210.08 L112.42 210.04 L112.89 210.00 L113.36 209.95 L113.84 209.91 L114.31 209.87 L114.79 209.83 L115.26 209.79 L115.73 209.75 L116.21 209.71 L116.68 209.67 L117.15 209.63 L117.63 209.58 L118.10 209.54 L118.58 209.50 L119.05 209.46 L119.52 209.42 L120.00 209.38 L120.47 209.34 L120.94 209.30 L121.42 209.26 L121.89 209.21 L122.37 209.17 L122.84 209.13 L123.31 209.09 L123.79 209.05 L124.26 209.01 L124.74 208.97 L125.21 208.93 L125.68 208.88 L126.16 208.84 L126.63 208.80 L127.10 208.76 L127.58 208.72 L128.05 208.68 L128.53 208.64 L129.00 208.60 L129.47 208.56 L129.95 208.51 L130.42 208.47 L130.90 208.43 L131.37 208.39 L131.84 208.35 L132.32 208.31 L132.79 208.27 L133.26 208.23 L133.74 208.19 L134.21 208.14 L134.69 208.10 L135.16 208.06 L135.63 208.02 L136.11 207.98 L136.58 207.94 L137.06 207.90 L137.53 207.86 L138.00 207.81 L138.48 207.77 L138.95 207.73 L139.42 207.69 L139.90 207.65 L140.37 207.61 L140.85 207.57 L141.32 207.53 L141.79 207.49 L142.27 207.44 L142.74 207.40 L143.22 207.36 L143.69 207.32 L144.16 207.28 L144.64 207.24 L145.11 207.20 L145.58 207.16 L146.06 207.12 L146.53 207.07 L147.01 207.03 L147.48 206.99 L147.95 206.95 L148.43 206.91 L148.90 206.87 L149.38 206.83 L149.85 206.79 L150.32 206.74 L150.80 206.70 L151.27 206.66 L151.74 206.62 L152.22 206.58 L152.69 206.54 L153.17 206.50 L153.64 206.46 L154.11 206.42 L154.59 206.37 L155.06 206.33 L155.53 206.29 L156.01 206.25 L156.48 206.21 L156.96 206.17 L157.43 206.13 L157.90 206.09 L158.38 206.05 L158.85 206.00 L159.33 205.96 L159.80 205.92 L160.27 205.88 L160.75 205.84 L161.22 205.80 L161.69 205.76 L162.17 205.72 L162.64 205.67 L163.12 205.63 L163.59 205.59 L164.06 205.55 L164.54 205.51 L165.01 205.47 L165.49 205.43 L165.96 205.39 L166.43 205.35 L166.91 205.30 L167.38 205.26 L167.85 205.22 L168.33 205.18 L168.80 205.14 L169.28 205.10 L169.75 205.06 L170.22 205.02 L170.70 204.98 L171.17 204.93 L171.65 204.89 L172.12 204.85 L172.59 204.81 L173.07 204.77 L173.54 204.73 L174.01 204.69 L174.49 204.65 L174.96 204.60 L175.44 204.56 L175.91 204.52 L176.38 204.48 L176.86 204.44 L177.33 204.40 L177.81 204.36 L178.28 204.32 L178.75 204.28 L179.23 204.23 L179.70 204.19 L180.17 204.15 L180.65 204.11 L181.12 204.07 L181.60 204.03 L182.07 203.99 L182.54 203.95 L183.02 203.91 L183.49 203.86 L183.96 203.82 L184.44 203.78 L184.91 203.74 L185.39 203.70 L185.86 203.66 L186.33 203.62 L186.81 203.58 L187.28 203.53 L187.76 203.49 L188.23 203.45 L188.70 203.41 L189.18 203.37 L189.65 203.33 L190.12 203.29 L190.60 203.25 L191.07 203.21 L191.55 203.16 L192.02 203.12 L192.49 203.08 L192.97 203.04 L193.44 203.00 L193.92 202.96 L194.39 202.92 L194.86 202.88 L195.34 202.84 L195.81 202.79 L196.28 202.75 L196.76 202.71 L197.23 202.67 L197.71 202.63 L198.18 202.59 L198.65 202.55 L199.13 202.51 L199.60 202.46 L200.08 202.42 L200.55 202.38 L201.02 202.34 L201.50 202.30 L201.97 202.26 L202.44 202.22 L202.92 202.18 L203.39 202.14 L203.87 202.09 L204.34 202.05 L204.81 202.01 L205.29 201.97 L205.76 201.93 L206.24 201.89 L206.71 201.85 L207.18 201.81 L207.66 201.77 L208.13 201.72 L208.60 201.68 L209.08 201.64 L209.55 201.60 L210.03 201.56 L210.50 201.52 L210.97 201.48 L211.45 201.44 L211.92 201.39 L212.39 201.35 L212.87 201.31 L213.34 201.27 L213.82 201.23 L214.29 201.19 L214.76 201.15 L215.24 201.11 L215.71 201.07 L216.19 201.02 L216.66 200.98 L217.13 200.94 L217.61 200.90 L218.08 200.86 L218.55 200.82 L219.03 200.78 L219.50 200.74 L219.98 200.70 L220.45 200.65 L220.92 200.61 L221.40 200.57 L221.87 200.53 L222.35 200.49 L222.82 200.45 L223.29 200.41 L223.77 200.37 L224.24 200.32 L224.71 200.28 L225.19 200.24 L225.66 200.24 L226.14 200.24 L226.61 200.24 L227.08 200.24 L227.56 200.24 L228.03 200.24 L228.51 200.24 L228.98 200.24 L229.45 200.24 L229.93 200.24 L230.40 200.24 L230.87 200.24 L231.35 200.24 L231.82 200.24 L232.30 200.24 L232.77 200.24 L233.24 200.24 L233.72 200.24 L234.19 200.24 L234.67 200.24 L235.14 200.24 L235.61 200.24 L236.09 200.24 L236.56 200.24 L237.03 200.24 L237.51 200.24 L237.98 200.24 L238.46 200.24 L238.93 200.24 L239.40 200.24 L239.88 200.24 L240.35 200.24 L240.82 200.24 L241.30 200.24 L241.77 200.24 L242.25 200.24 L242.72 200.24 L243.19 200.24 L243.67 200.24 L244.14 200.24 L244.62 200.24 L245.09 200.24 L245.56 200.24 L246.04 200.24 L246.51 200.24 L246.98 200.24 L247.46 200.24 L247.93 200.24 L248.41 200.24 L248.88 200.24 L249.35 200.24 L249.83 200.24 L250.30 200.24 L250.78 200.24 L251.25 200.24 L251.72 200.24 L252.20 200.24 L252.67 200.24 L253.14 200.24 L253.62 200.24 L254.09 200.24 L254.57 200.24 L255.04 200.24 L255.51 200.24 L255.99 200.24 L256.46 200.24 L256.94 200.24 L257.41 200.24 L257.88 200.24 L258.36 200.24 L258.83 200.24 L259.30 200.24 L259.78 200.24 L260.25 200.24 L260.73 200.24 L261.20 200.24 L261.67 200.24 L262.15 200.24 L262.62 200.24 L263.09 200.24 L263.57 200.24 L264.04 200.24 L264.52 200.24 L264.99 200.24 L265.46 200.24 L265.94 200.24 L266.41 200.24 L266.89 200.24 L267.36 200.24 L267.83 200.24 L268.31 200.24 L268.78 200.24 L269.25 200.24 L269.73 200.24 L270.20 200.24 L270.68 200.24 L271.15 200.24 L271.62 200.24 L272.10 200.24 L272.57 200.24 L273.05 200.24 L273.52 200.24 L273.99 200.24 L274.47 200.24 L274.94 200.24 L275.41 200.24 L275.89 200.24 L276.36 200.24 L276.84 200.24 L277.31 200.24 L277.78 200.24 L278.26 200.24 L278.73 200.24 L279.21 200.24 L279.68 200.24 L280.15 200.24 L280.63 200.24 L281.10 200.24 L281.57 200.24 L282.05 200.24 L282.52 200.24 L283.00 200.24 L283.47 200.24 L283.94 200.24 L284.42 200.24 L284.89 200.24 L285.37 200.24 L285.84 200.24 L286.31 200.24 L286.79 200.24 L287.26 200.24 L287.73 200.24 L288.21 200.24 L288.68 200.24 L289.16 200.24 L289.63 200.24 L290.10 200.24 L290.58 200.24 L291.05 200.24 L291.52 200.24 L292.00 200.24 L292.47 200.24 L292.95 200.24 L293.42 200.24 L293.89 200.24 L294.37 200.24 L294.84 200.24 L295.32 200.24 L295.79 200.24 L296.26 200.24 L296.74 200.24 L297.21 200.24 L297.68 200.24 L298.16 200.24 L298.63 200.24 L299.11 200.24 L299.58 200.24 L300.05 200.24 L300.53 200.24 L301.00 200.24 L301.48 200.24 L301.95 200.24 L302.42 200.24 L302.90 200.24 L303.37 200.24 L303.84 200.24 L304.32 200.24 L304.79 200.24 L305.27 200.24 L305.74 200.24 L306.21 200.24 L306.69 200.24 L307.16 200.24 L307.64 200.24 L308.11 200.24 L308.58 200.24 L309.06 200.24 L309.53 200.24 L310.00 200.24 L310.48 200.24 L310.95 200.24 L311.43 200.24 L311.90 200.24 L312.37 200.24 L312.85 200.24 L313.32 200.24 L313.80 200.24 L314.27 200.24 L314.74 200.24 L315.22 200.24 L315.69 200.24 L316.16 200.24 L316.64 200.24 L317.11 200.24 L317.59 200.24 L318.06 200.24 L318.53 200.24 L319.01 200.24 L319.48 200.24 L319.95 200.24 L320.43 200.24 L320.90 200.24 L321.38 200.24 L321.85 200.24 L322.32 200.24 L322.80 200.24 L323.27 200.24 L323.75 200.24 L324.22 200.24 L324.69 200.24 L325.17 200.24 L325.64 200.24 L326.11 200.24 L326.59 200.24 L327.06 200.24 L327.54 200.24 L328.01 200.24 L328.48 200.24 L328.96 200.24 L329.43 200.24 L329.91 200.24 L330.38 200.24 L330.85 200.24 L331.33 200.24 L331.80 200.24 L332.27 200.24 L332.75 200.24 L333.22 200.24 L333.70 200.24 L334.17 200.24 L334.64 200.24 L335.12 200.24 L335.59 200.24 L336.07 200.24 L336.54 200.24 L337.01 200.24 L337.49 200.24 L337.96 200.24 L338.43 200.24 L338.91 200.24 L339.38 200.24 L339.86 200.24 L340.33 200.24 L340.80 200.24 L341.28 200.24 L341.75 200.24 L342.23 200.24 L342.70 200.24 L343.17 200.24 L343.65 200.24 L344.12 200.24 L344.59 200.24 L345.07 200.24 L345.54 200.24 L346.02 200.24 L346.49 200.24 L346.96 200.24 L347.44 200.24 L347.91 200.24 L348.38 200.24 L348.86 200.24 L349.33 200.24 L349.81 200.24 L350.28 200.24 L350.75 200.24 L351.23 200.24 L351.70 200.24 L352.18 200.24 L352.65 200.24 L353.12 200.24 L353.60 200.24 L354.07 200.24 L354.54 200.24 L355.02 200.24 L355.49 200.24 L355.97 200.24 L356.44 200.24 L356.91 200.24 L357.39 200.24 L357.86 200.24 L358.34 200.24 L358.81 200.24 L359.28 200.24 L359.76 200.24 L360.23 200.24 L360.70 200.24 L361.18 200.24 L361.65 200.24 L362.13 200.24 L362.60 200.24" stroke="#f20000" stroke-width="2.0"/>
<circle cx="78.90" cy="212.40" r="1.5" fill="#f20000" stroke="none"/>
<circle cx="92.52" cy="202.76" r="5.1" stroke="#0b5f1e" stroke-width="0.8"/>
<circle cx="120.94" cy="178.03" r="5.1" stroke="#0b5f1e" stroke-width="0.8"/>
<circle cx="149.38" cy="147.61" r="5.1" stroke="#0b5f1e" stroke-width="0.8"/>
<circle cx="177.81" cy="112.39" r="5.1" stroke="#0b5f1e" stroke-width="0.8"/>
<circle cx="206.24" cy="75.09" r="5.1" stroke="#0b5f1e" stroke-width="0.8"/>
<circle cx="234.67" cy="48.88" r="5.1" stroke="#0b5f1e" stroke-width="0.8"/>
<circle cx="263.09" cy="48.88" r="5.1" stroke="#0b5f1e" stroke-width="0.8"/>
<circle cx="291.52" cy="48.88" r="5.1" stroke="#0b5f1e" stroke-width="0.8"/>
<circle cx="319.95" cy="48.88" r="5.1" stroke="#0b5f1e" stroke-width="0.8"/>
<circle cx="348.38" cy="48.88" r="5.1" stroke="#0b5f1e" stroke-width="0.8"/>
</g>
<path d="M87.78 213.0v-5.7M87.78 24.0v5.7M97.25 213.0v-5.7M97.25 24.0v5.7M106.73 213.0v-5.7M106.73 24.0v5.7M116.21 213.0v-5.7M116.21 24.0v5.7M125.68 213.0v-10.5M125.68 24.0v10.5M135.16 213.0v-5.7M135.16 24.0v5.7M144.64 213.0v-5.7M144.64 24.0v5.7M154.11 213.0v-5.7M154.11 24.0v5.7M163.59 213.0v-5.7M163.59 24.0v5.7M173.07 213.0v-10.5M173.07 24.0v10.5M182.54 213.0v-5.7M182.54 24.0v5.7M192.02 213.0v-5.7M192.02 24.0v5.7M201.50 213.0v-5.7M201.50 24.0v5.7M210.97 213.0v-5.7M210.97 24.0v5.7M220.45 213.0v-10.5M220.45 24.0v10.5M229.93 213.0v-5.7M229.93 24.0v5.7M239.40 213.0v-5.7M239.40 24.0v5.7M248.88 213.0v-5.7M248.88 24.0v5.7M258.36 213.0v-5.7M258.36 24.0v5.7M267.83 213.0v-10.5M267.83 24.0v10.5M277.31 213.0v-5.7M277.31 24.0v5.7M286.79 213.0v-5.7M286.79 24.0v5.7M296.26 213.0v-5.7M296.26 24.0v5.7M305.74 213.0v-5.7M305.74 24.0v5.7M315.22 213.0v-10.5M315.22 24.0v10.5M324.69 213.0v-5.7M324.69 24.0v5.7M334.17 213.0v-5.7M334.17 24.0v5.7M343.65 213.0v-5.7M343.65 24.0v5.7M353.12 213.0v-5.7M353.12 24.0v5.7M78.3 206.70h5.7M362.6 206.70h-5.7M78.3 200.40h5.7M362.6 200.40h-5.7M78.3 194.10h5.7M362.6 194.10h-5.7M78.3 187.80h5.7M362.6 187.80h-5.7M78.3 181.50h10.5M362.6 181.50h-10.5M78.3 175.20h5.7M362.6 175.20h-5.7M78.3 168.90h5.7M362.6 168.90h-5.7M78.3 162.60h5.7M362.6 162.60h-5.7M78.3 156.30h5.7M362.6 156.30h-5.7M78.3 150.00h10.5M362.6 150.00h-10.5M78.3 143.70h5.7M362.6 143.70h-5.7M78.3 137.40h5.7M362.6 137.40h-5.7M78.3 131.10h5.7M362.6 131.10h-5.7M78.3 124.80h5.7M362.6 124.80h-5.7M78.3 118.50h10.5M362.6 118.50h-10.5M78.3 112.20h5.7M362.6 112.20h-5.7M78.3 105.90h5.7M362.6 105.90h-5.7M78.3 99.60h5.7M362.6 99.60h-5.7M78.3 93.30h5.7M362.6 93.30h-5.7M78.3 87.00h10.5M362.6 87.00h-10.5M78.3 80.70h5.7M362.6 80.70h-5.7M78.3 74.40h5.7M362.6 74.40h-5.7M78.3 68.10h5.7M362.6 68.10h-5.7M78.3 61.80h5.7M362.6 61.80h-5.7M78.3 55.50h10.5M362.6 55.50h-10.5M78.3 49.20h5.7M362.6 49.20h-5.7M78.3 42.90h5.7M362.6 42.90h-5.7M78.3 36.60h5.7M362.6 36.60h-5.7M78.3 30.30h5.7M362.6 30.30h-5.7" stroke="#484848" stroke-width="0.9" fill="none"/>
<rect x="78.3" y="24.0" width="284.30" height="189.00" fill="none" stroke="#2e2e2e" stroke-width="1"/>
<g clip-path="url(#cb)" fill="none" stroke-linejoin="round" stroke-linecap="round">
<path d="M77.40 433.20 L77.87 432.87 L78.35 432.55 L78.82 432.23 L79.29 431.91 L79.77 431.59 L80.24 431.26 L80.71 430.94 L81.19 430.62 L81.66 430.29 L82.14 429.97 L82.61 429.65 L83.08 429.32 L83.56 429.00 L84.03 428.67 L84.50 428.35 L84.98 428.03 L85.45 427.70 L85.92 427.38 L86.40 427.05 L86.87 426.73 L87.34 426.40 L87.82 426.07 L88.29 425.75 L88.76 425.42 L89.24 425.10 L89.71 424.77 L90.18 424.44 L90.66 424.12 L91.13 423.79 L91.61 423.46 L92.08 423.13 L92.55 422.81 L93.03 422.48 L93.50 422.15 L93.97 421.83 L94.45 421.50 L94.92 421.17 L95.39 420.84 L95.87 420.51 L96.34 420.18 L96.81 419.86 L97.29 419.53 L97.76 419.20 L98.23 418.87 L98.71 418.54 L99.18 418.21 L99.65 417.88 L100.13 417.55 L100.60 417.22 L101.08 416.90 L101.55 416.57 L102.02 416.24 L102.50 415.91 L102.97 415.58 L103.44 415.25 L103.92 414.92 L104.39 414.59 L104.86 414.26 L105.34 413.93 L105.81 413.60 L106.28 413.27 L106.76 412.94 L107.23 412.61 L107.70 412.28 L108.18 411.95 L108.65 411.61 L109.12 411.28 L109.60 410.95 L110.07 410.62 L110.55 410.29 L111.02 409.96 L111.49 409.63 L111.97 409.30 L112.44 408.97 L112.91 408.64 L113.39 408.31 L113.86 407.98 L114.33 407.65 L114.81 407.31 L115.28 406.98 L115.75 406.65 L116.23 406.32 L116.70 405.99 L117.17 405.66 L117.65 405.33 L118.12 405.00 L118.59 404.67 L119.07 404.34 L119.54 404.00 L120.02 403.67 L120.49 403.34 L120.96 403.01 L121.44 402.68 L121.91 402.35 L122.38 402.02 L122.86 401.69 L123.33 401.36 L123.80 401.03 L124.28 400.70 L124.75 400.36 L125.22 400.03 L125.70 399.70 L126.17 399.37 L126.64 399.04 L127.12 398.71 L127.59 398.38 L128.06 398.05 L128.54 397.72 L129.01 397.39 L129.49 397.06 L129.96 396.73 L130.43 396.40 L130.91 396.07 L131.38 395.74 L131.85 395.41 L132.33 395.08 L132.80 394.75 L133.27 394.42 L133.75 394.09 L134.22 393.76 L134.69 393.43 L135.17 393.10 L135.64 392.77 L136.11 392.44 L136.59 392.11 L137.06 391.78 L137.53 391.45 L138.01 391.13 L138.48 390.80 L138.96 390.47 L139.43 390.14 L139.90 389.81 L140.38 389.48 L140.85 389.15 L141.32 388.83 L141.80 388.50 L142.27 388.17 L142.74 387.84 L143.22 387.51 L143.69 387.19 L144.16 386.86 L144.64 386.53 L145.11 386.20 L145.58 385.88 L146.06 385.55 L146.53 385.22 L147.00 384.90 L147.48 384.57 L147.95 384.24 L148.43 383.92 L148.90 383.59 L149.37 383.26 L149.85 382.94 L150.32 382.61 L150.79 382.29 L151.27 381.96 L151.74 381.64 L152.21 381.31 L152.69 380.99 L153.16 380.66 L153.63 380.34 L154.11 380.01 L154.58 379.69 L155.05 379.36 L155.53 379.04 L156.00 378.72 L156.47 378.39 L156.95 378.07 L157.42 377.75 L157.90 377.42 L158.37 377.10 L158.84 376.78 L159.32 376.45 L159.79 376.13 L160.26 375.81 L160.74 375.49 L161.21 375.17 L161.68 374.84 L162.16 374.52 L162.63 374.20 L163.10 373.88 L163.58 373.56 L164.05 373.24 L164.52 372.92 L165.00 372.60 L165.47 372.28 L165.94 371.96 L166.42 371.64 L166.89 371.32 L167.37 371.00 L167.84 370.68 L168.31 370.36 L168.79 370.04 L169.26 369.73 L169.73 369.41 L170.21 369.09 L170.68 368.77 L171.15 368.45 L171.63 368.14 L172.10 367.82 L172.57 367.50 L173.05 367.19 L173.52 366.87 L173.99 366.56 L174.47 366.24 L174.94 365.92 L175.41 365.61 L175.89 365.29 L176.36 364.98 L176.84 364.66 L177.31 364.35 L177.78 364.04 L178.26 363.72 L178.73 363.41 L179.20 363.10 L179.68 362.78 L180.15 362.47 L180.62 362.16 L181.10 361.85 L181.57 361.53 L182.04 361.22 L182.52 360.91 L182.99 360.60 L183.46 360.29 L183.94 359.98 L184.41 359.67 L184.88 359.36 L185.36 359.05 L185.83 358.74 L186.31 358.43 L186.78 358.12 L187.25 357.81 L187.73 357.50 L188.20 357.19 L188.67 356.88 L189.15 356.57 L189.62 356.26 L190.09 355.95 L190.57 355.64 L191.04 355.33 L191.51 355.02 L191.99 354.71 L192.46 354.40 L192.93 354.09 L193.41 353.78 L193.88 353.47 L194.35 353.15 L194.83 352.84 L195.30 352.53 L195.78 352.22 L196.25 351.91 L196.72 351.60 L197.20 351.29 L197.67 350.98 L198.14 350.67 L198.62 350.36 L199.09 350.04 L199.56 349.73 L200.04 349.42 L200.51 349.11 L200.98 348.80 L201.46 348.49 L201.93 348.18 L202.40 347.87 L202.88 347.56 L203.35 347.25 L203.82 346.94 L204.30 346.63 L204.77 346.32 L205.25 346.01 L205.72 345.70 L206.19 345.39 L206.67 345.08 L207.14 344.77 L207.61 344.47 L208.09 344.16 L208.56 343.85 L209.03 343.54 L209.51 343.23 L209.98 342.93 L210.45 342.62 L210.93 342.31 L211.40 342.01 L211.87 341.70 L212.35 341.40 L212.82 341.09 L213.29 340.78 L213.77 340.48 L214.24 340.17 L214.72 339.87 L215.19 339.57 L215.66 339.26 L216.14 338.96 L216.61 338.66 L217.08 338.36 L217.56 338.05 L218.03 337.75 L218.50 337.45 L218.98 337.15 L219.45 336.85 L219.92 336.55 L220.40 336.25 L220.87 335.95 L221.34 335.65 L221.82 335.36 L222.29 335.06 L222.76 334.76 L223.24 334.46 L223.71 334.17 L224.19 333.87 L224.66 333.58 L225.13 333.28 L225.61 332.99 L226.08 332.70 L226.55 332.41 L227.03 332.11 L227.50 331.82 L227.97 331.53 L228.45 331.24 L228.92 330.95 L229.39 330.66 L229.87 330.37 L230.34 330.09 L230.81 329.80 L231.29 329.51 L231.76 329.23 L232.23 328.94 L232.71 328.66 L233.18 328.38 L233.66 328.09 L234.13 327.81 L234.60 327.53 L235.08 327.25 L235.55 326.97 L236.02 326.69 L236.50 326.41 L236.97 326.14 L237.44 325.86 L237.92 325.59 L238.39 325.31 L238.86 325.04 L239.34 324.76 L239.81 324.49 L240.28 324.22 L240.76 323.95 L241.23 323.68 L241.70 323.41 L242.18 323.14 L242.65 322.88 L243.13 322.61 L243.60 322.35 L244.07 322.08 L244.55 321.82 L245.02 321.56 L245.49 321.29 L245.97 321.03 L246.44 320.77 L246.91 320.51 L247.39 320.25 L247.86 319.99 L248.33 319.73 L248.81 319.47 L249.28 319.21 L249.75 318.95 L250.23 318.69 L250.70 318.43 L251.17 318.18 L251.65 317.92 L252.12 317.67 L252.60 317.41 L253.07 317.16 L253.54 316.90 L254.02 316.65 L254.49 316.40 L254.96 316.14 L255.44 315.89 L255.91 315.64 L256.38 315.39 L256.86 315.14 L257.33 314.89 L257.80 314.64 L258.28 314.39 L258.75 314.15 L259.22 313.90 L259.70 313.65 L260.17 313.41 L260.64 313.16 L261.12 312.92 L261.59 312.67 L262.07 312.43 L262.54 312.18 L263.01 311.94 L263.49 311.70 L263.96 311.46 L264.43 311.22 L264.91 310.97 L265.38 310.73 L265.85 310.49 L266.33 310.26 L266.80 310.02 L267.27 309.78 L267.75 309.54 L268.22 309.30 L268.69 309.07 L269.17 308.83 L269.64 308.59 L270.11 308.36 L270.59 308.12 L271.06 307.89 L271.54 307.65 L272.01 307.42 L272.48 307.19 L272.96 306.95 L273.43 306.72 L273.90 306.49 L274.38 306.26 L274.85 306.02 L275.32 305.79 L275.80 305.56 L276.27 305.33 L276.74 305.10 L277.22 304.87 L277.69 304.64 L278.16 304.41 L278.64 304.18 L279.11 303.95 L279.58 303.73 L280.06 303.50 L280.53 303.27 L281.00 303.04 L281.48 302.81 L281.95 302.59 L282.43 302.36 L282.90 302.13 L283.37 301.90 L283.85 301.68 L284.32 301.45 L284.79 301.22 L285.27 301.00 L285.74 300.77 L286.21 300.54 L286.69 300.32 L287.16 300.09 L287.63 299.87 L288.11 299.64 L288.58 299.42 L289.05 299.19 L289.53 298.97 L290.00 298.74 L290.48 298.52 L290.95 298.29 L291.42 298.07 L291.90 297.84 L292.37 297.62 L292.84 297.39 L293.32 297.17 L293.79 296.94 L294.26 296.72 L294.74 296.50 L295.21 296.27 L295.68 296.05 L296.16 295.83 L296.63 295.60 L297.10 295.38 L297.58 295.16 L298.05 294.93 L298.52 294.71 L299.00 294.49 L299.47 294.27 L299.95 294.04 L300.42 293.82 L300.89 293.60 L301.37 293.38 L301.84 293.16 L302.31 292.94 L302.79 292.72 L303.26 292.50 L303.73 292.28 L304.21 292.06 L304.68 291.84 L305.15 291.62 L305.63 291.40 L306.10 291.18 L306.57 290.96 L307.05 290.74 L307.52 290.53 L307.99 290.31 L308.47 290.09 L308.94 289.87 L309.42 289.66 L309.89 289.44 L310.36 289.23 L310.84 289.01 L311.31 288.80 L311.78 288.58 L312.26 288.37 L312.73 288.16 L313.20 287.94 L313.68 287.73 L314.15 287.52 L314.62 287.31 L315.10 287.10 L315.57 286.89 L316.04 286.68 L316.52 286.47 L316.99 286.26 L317.46 286.05 L317.94 285.84 L318.41 285.64 L318.88 285.43 L319.36 285.22 L319.83 285.02 L320.31 284.81 L320.78 284.61 L321.25 284.41 L321.73 284.20 L322.20 284.00 L322.67 283.80 L323.15 283.59 L323.62 283.39 L324.09 283.19 L324.57 282.99 L325.04 282.79 L325.51 282.59 L325.99 282.40 L326.46 282.20 L326.93 282.00 L327.41 281.80 L327.88 281.61 L328.36 281.41 L328.83 281.22 L329.30 281.02 L329.78 280.83 L330.25 280.63 L330.72 280.44 L331.20 280.25 L331.67 280.05 L332.14 279.86 L332.62 279.67 L333.09 279.48 L333.56 279.29 L334.04 279.10 L334.51 278.91 L334.98 278.72 L335.46 278.54 L335.93 278.35 L336.40 278.16 L336.88 277.98 L337.35 277.79 L337.83 277.60 L338.30 277.42 L338.77 277.23 L339.25 277.05 L339.72 276.87 L340.19 276.68 L340.67 276.50 L341.14 276.32 L341.61 276.14 L342.09 275.95 L342.56 275.77 L343.03 275.59 L343.51 275.41 L343.98 275.23 L344.45 275.05 L344.93 274.87 L345.40 274.70 L345.87 274.52 L346.35 274.34 L346.82 274.16 L347.30 273.99 L347.77 273.81 L348.24 273.63 L348.72 273.46 L349.19 273.28 L349.66 273.11 L350.14 272.94 L350.61 272.76 L351.08 272.59 L351.56 272.41 L352.03 272.24 L352.50 272.07 L352.98 271.90 L353.45 271.73 L353.92 271.56 L354.40 271.38 L354.87 271.21 L355.34 271.04 L355.82 270.87 L356.29 270.71 L356.76 270.54 L357.24 270.37 L357.71 270.20 L358.19 270.03 L358.66 269.86 L359.13 269.70 L359.61 269.53 L360.08 269.36 L360.55 269.20 L361.03 269.03 L361.50 268.87" stroke="#0b5f1e" stroke-width="2.5"/>
<path d="M80.95 433.20 L81.42 433.19 L81.88 433.11 L82.34 432.97 L82.81 432.79 L83.27 432.58 L83.74 432.35 L84.20 432.03 L84.66 431.62 L85.13 431.14 L85.59 430.62 L86.06 430.10 L86.52 429.60 L86.98 429.14 L87.45 428.71 L87.91 428.27 L88.38 427.84 L88.84 427.41 L89.30 426.98 L89.77 426.56 L90.23 426.14 L90.70 425.72 L91.16 425.30 L91.62 424.89 L92.09 424.48 L92.55 424.08 L93.02 423.68 L93.48 423.29 L93.94 422.90 L94.41 422.51 L94.87 422.12 L95.34 421.74 L95.80 421.37 L96.26 420.99 L96.73 420.62 L97.19 420.25 L97.66 419.88 L98.12 419.51 L98.58 419.15 L99.05 418.78 L99.51 418.42 L99.98 418.06 L100.44 417.70 L100.90 417.34 L101.37 416.98 L101.83 416.62 L102.30 416.26 L102.76 415.91 L103.22 415.55 L103.69 415.20 L104.15 414.85 L104.62 414.50 L105.08 414.15 L105.54 413.81 L106.01 413.46 L106.47 413.11 L106.94 412.77 L107.40 412.43 L107.86 412.08 L108.33 411.74 L108.79 411.40 L109.26 411.06 L109.72 410.72 L110.18 410.38 L110.65 410.04 L111.11 409.70 L111.58 409.36 L112.04 409.02 L112.50 408.68 L112.97 408.34 L113.43 408.00 L113.90 407.66 L114.36 407.32 L114.82 406.99 L115.29 406.65 L115.75 406.32 L116.22 405.98 L116.68 405.65 L117.14 405.31 L117.61 404.98 L118.07 404.65 L118.54 404.32 L119.00 403.99 L119.46 403.66 L119.93 403.34 L120.39 403.01 L120.86 402.69 L121.32 402.36 L121.78 402.04 L122.25 401.72 L122.71 401.40 L123.18 401.07 L123.64 400.75 L124.10 400.44 L124.57 400.12 L125.03 399.80 L125.50 399.48 L125.96 399.17 L126.42 398.85 L126.89 398.54 L127.35 398.22 L127.82 397.91 L128.28 397.60 L128.74 397.29 L129.21 396.98 L129.67 396.67 L130.14 396.35 L130.60 396.03 L131.06 395.70 L131.53 395.38 L131.99 395.06 L132.46 394.74 L132.92 394.42 L133.38 394.10 L133.85 393.78 L134.31 393.46 L134.78 393.14 L135.24 392.82 L135.70 392.50 L136.17 392.18 L136.63 391.86 L137.10 391.55 L137.56 391.23 L138.02 390.91 L138.49 390.59 L138.95 390.27 L139.42 389.95 L139.88 389.64 L140.35 389.32 L140.81 389.00 L141.27 388.68 L141.74 388.36 L142.20 388.05 L142.67 387.73 L143.13 387.41 L143.59 387.10 L144.06 386.78 L144.52 386.46 L144.99 386.15 L145.45 385.83 L145.91 385.52 L146.38 385.20 L146.84 384.89 L147.31 384.57 L147.77 384.26 L148.23 383.94 L148.70 383.63 L149.16 383.31 L149.63 383.00 L150.09 382.69 L150.55 382.37 L151.02 382.06 L151.48 381.75 L151.95 381.43 L152.41 381.12 L152.87 380.81 L153.34 380.50 L153.80 380.19 L154.27 379.87 L154.73 379.56 L155.19 379.25 L155.66 378.94 L156.12 378.63 L156.59 378.32 L157.05 378.01 L157.51 377.70 L157.98 377.39 L158.44 377.08 L158.91 376.77 L159.37 376.47 L159.83 376.16 L160.30 375.85 L160.76 375.54 L161.23 375.24 L161.69 374.93 L162.15 374.62 L162.62 374.32 L163.08 374.01 L163.55 373.71 L164.01 373.40 L164.47 373.10 L164.94 372.79 L165.40 372.49 L165.87 372.19 L166.33 371.88 L166.79 371.58 L167.26 371.28 L167.72 370.98 L168.19 370.68 L168.65 370.38 L169.11 370.08 L169.58 369.78 L170.04 369.48 L170.51 369.18 L170.97 368.88 L171.43 368.58 L171.90 368.29 L172.36 367.99 L172.83 367.69 L173.29 367.40 L173.75 367.10 L174.22 366.81 L174.68 366.51 L175.15 366.22 L175.61 365.93 L176.07 365.63 L176.54 365.34 L177.00 365.05 L177.47 364.76 L177.93 364.47 L178.39 364.18 L178.86 363.89 L179.32 363.60 L179.79 363.31 L180.25 363.03 L180.71 362.74 L181.18 362.45 L181.64 362.17 L182.11 361.88 L182.57 361.60 L183.03 361.31 L183.50 361.03 L183.96 360.74 L184.43 360.46 L184.89 360.18 L185.35 359.89 L185.82 359.61 L186.28 359.33 L186.75 359.05 L187.21 358.77 L187.67 358.49 L188.14 358.21 L188.60 357.93 L189.07 357.65 L189.53 357.37 L189.99 357.09 L190.46 356.81 L190.92 356.53 L191.39 356.26 L191.85 355.98 L192.31 355.70 L192.78 355.42 L193.24 355.15 L193.71 354.87 L194.17 354.59 L194.63 354.31 L195.10 354.04 L195.56 353.76 L196.03 353.48 L196.49 353.20 L196.95 352.93 L197.42 352.65 L197.88 352.37 L198.35 352.09 L198.81 351.82 L199.27 351.54 L199.74 351.26 L200.20 350.98 L200.67 350.70 L201.13 350.43 L201.59 350.15 L202.06 349.87 L202.52 349.59 L202.99 349.31 L203.45 349.03 L203.92 348.75 L204.38 348.47 L204.84 348.19 L205.31 347.91 L205.77 347.63 L206.24 347.35 L206.70 347.07 L207.16 346.79 L207.63 346.50 L208.09 346.22 L208.56 345.94 L209.02 345.66 L209.48 345.37 L209.95 345.09 L210.41 344.81 L210.88 344.53 L211.34 344.24 L211.80 343.96 L212.27 343.68 L212.73 343.39 L213.20 343.11 L213.66 342.83 L214.12 342.54 L214.59 342.26 L215.05 341.98 L215.52 341.69 L215.98 341.41 L216.44 341.13 L216.91 340.84 L217.37 340.56 L217.84 340.28 L218.30 339.99 L218.76 339.71 L219.23 339.43 L219.69 339.15 L220.16 338.86 L220.62 338.58 L221.08 338.30 L221.55 338.02 L222.01 337.74 L222.48 337.46 L222.94 337.18 L223.40 336.90 L223.87 336.62 L224.33 336.34 L224.80 336.06 L225.26 335.79 L225.72 335.51 L226.19 335.23 L226.65 334.96 L227.12 334.68 L227.58 334.41 L228.04 334.13 L228.51 333.86 L228.97 333.58 L229.44 333.31 L229.90 333.04 L230.36 332.77 L230.83 332.50 L231.29 332.22 L231.76 331.95 L232.22 331.69 L232.68 331.42 L233.15 331.15 L233.61 330.88 L234.08 330.61 L234.54 330.35 L235.00 330.08 L235.47 329.82 L235.93 329.55 L236.40 329.29 L236.86 329.03 L237.32 328.77 L237.79 328.50 L238.25 328.24 L238.72 327.98 L239.18 327.72 L239.64 327.46 L240.11 327.20 L240.57 326.95 L241.04 326.69 L241.50 326.43 L241.96 326.18 L242.43 325.92 L242.89 325.67 L243.36 325.41 L243.82 325.16 L244.28 324.90 L244.75 324.65 L245.21 324.40 L245.68 324.15 L246.14 323.89 L246.60 323.64 L247.07 323.39 L247.53 323.14 L248.00 322.89 L248.46 322.65 L248.92 322.40 L249.39 322.15 L249.85 321.90 L250.32 321.66 L250.78 321.41 L251.24 321.16 L251.71 320.92 L252.17 320.67 L252.64 320.43 L253.10 320.19 L253.56 319.94 L254.03 319.70 L254.49 319.46 L254.96 319.21 L255.42 318.97 L255.88 318.73 L256.35 318.49 L256.81 318.25 L257.28 318.01 L257.74 317.77 L258.20 317.53 L258.67 317.29 L259.13 317.05 L259.60 316.82 L260.06 316.58 L260.52 316.34 L260.99 316.10 L261.45 315.87 L261.92 315.63 L262.38 315.40 L262.84 315.16 L263.31 314.93 L263.77 314.69 L264.24 314.46 L264.70 314.23 L265.16 313.99 L265.63 313.76 L266.09 313.53 L266.56 313.30 L267.02 313.06 L267.48 312.83 L267.95 312.60 L268.41 312.37 L268.88 312.14 L269.34 311.91 L269.81 311.68 L270.27 311.45 L270.73 311.23 L271.20 311.00 L271.66 310.77 L272.13 310.54 L272.59 310.32 L273.05 310.09 L273.52 309.86 L273.98 309.64 L274.45 309.41 L274.91 309.19 L275.37 308.96 L275.84 308.74 L276.30 308.51 L276.77 308.29 L277.23 308.07 L277.69 307.84 L278.16 307.62 L278.62 307.40 L279.09 307.18 L279.55 306.96 L280.01 306.74 L280.48 306.51 L280.94 306.29 L281.41 306.08 L281.87 305.86 L282.33 305.64 L282.80 305.42 L283.26 305.20 L283.73 304.98 L284.19 304.76 L284.65 304.55 L285.12 304.33 L285.58 304.11 L286.05 303.90 L286.51 303.68 L286.97 303.47 L287.44 303.25 L287.90 303.04 L288.37 302.82 L288.83 302.61 L289.29 302.40 L289.76 302.18 L290.22 301.97 L290.69 301.76 L291.15 301.55 L291.61 301.33 L292.08 301.12 L292.54 300.91 L293.01 300.70 L293.47 300.49 L293.93 300.28 L294.40 300.07 L294.86 299.86 L295.33 299.65 L295.79 299.44 L296.25 299.24 L296.72 299.03 L297.18 298.82 L297.65 298.61 L298.11 298.41 L298.57 298.20 L299.04 298.00 L299.50 297.79 L299.97 297.58 L300.43 297.38 L300.89 297.18 L301.36 296.97 L301.82 296.77 L302.29 296.56 L302.75 296.36 L303.21 296.16 L303.68 295.96 L304.14 295.75 L304.61 295.55 L305.07 295.35 L305.53 295.15 L306.00 294.95 L306.46 294.75 L306.93 294.55 L307.39 294.35 L307.85 294.15 L308.32 293.95 L308.78 293.75 L309.25 293.55 L309.71 293.36 L310.17 293.16 L310.64 292.96 L311.10 292.76 L311.57 292.57 L312.03 292.37 L312.49 292.18 L312.96 291.98 L313.42 291.78 L313.89 291.59 L314.35 291.40 L314.81 291.20 L315.28 291.01 L315.74 290.81 L316.21 290.62 L316.67 290.43 L317.13 290.23 L317.60 290.04 L318.06 289.85 L318.53 289.66 L318.99 289.47 L319.45 289.28 L319.92 289.09 L320.38 288.90 L320.85 288.71 L321.31 288.52 L321.77 288.33 L322.24 288.14 L322.70 287.95 L323.17 287.76 L323.63 287.57 L324.09 287.38 L324.56 287.20 L325.02 287.01 L325.49 286.82 L325.95 286.64 L326.41 286.45 L326.88 286.26 L327.34 286.08 L327.81 285.89 L328.27 285.71 L328.73 285.52 L329.20 285.34 L329.66 285.15 L330.13 284.97 L330.59 284.79 L331.05 284.60 L331.52 284.42 L331.98 284.24 L332.45 284.06 L332.91 283.87 L333.37 283.69 L333.84 283.51 L334.30 283.33 L334.77 283.15 L335.23 282.97 L335.70 282.79 L336.16 282.61 L336.62 282.43 L337.09 282.25 L337.55 282.07 L338.02 281.89 L338.48 281.71 L338.94 281.53 L339.41 281.35 L339.87 281.18 L340.34 281.00 L340.80 280.82 L341.26 280.64 L341.73 280.47 L342.19 280.29 L342.66 280.12 L343.12 279.94 L343.58 279.76 L344.05 279.59 L344.51 279.41 L344.98 279.24 L345.44 279.06 L345.90 278.89 L346.37 278.72 L346.83 278.54 L347.30 278.37 L347.76 278.19 L348.22 278.02 L348.69 277.85 L349.15 277.68 L349.62 277.50 L350.08 277.33 L350.54 277.16 L351.01 276.99 L351.47 276.82 L351.94 276.65 L352.40 276.48 L352.86 276.30 L353.33 276.13 L353.79 275.96 L354.26 275.79 L354.72 275.62 L355.18 275.46 L355.65 275.29 L356.11 275.12 L356.58 274.95 L357.04 274.78 L357.50 274.61 L357.97 274.44 L358.43 274.28 L358.90 274.11" stroke="#f20000" stroke-width="3.0"/>
<path d="M80.95 433.20 L81.42 433.19 L81.88 433.11 L82.34 432.97 L82.81 432.79 L83.27 432.58 L83.74 432.35 L84.20 432.03 L84.66 431.62 L85.13 431.14 L85.59 430.62 L86.06 430.10 L86.52 429.60 L86.98 429.14 L87.45 428.71 L87.91 428.27 L88.38 427.84 L88.84 427.41 L89.30 426.98 L89.77 426.56 L90.23 426.14 L90.70 425.72 L91.16 425.30 L91.62 424.89 L92.09 424.48 L92.55 424.08 L93.02 423.68 L93.48 423.29 L93.94 422.90 L94.41 422.51 L94.87 422.12 L95.34 421.74 L95.80 421.37 L96.26 420.99 L96.73 420.62 L97.19 420.25 L97.66 419.88 L98.12 419.51 L98.58 419.15 L99.05 418.78 L99.51 418.42 L99.98 418.06 L100.44 417.70 L100.90 417.34 L101.37 416.98 L101.83 416.62 L102.30 416.26 L102.76 415.91 L103.22 415.55 L103.69 415.20 L104.15 414.85 L104.62 414.50 L105.08 414.15 L105.54 413.81 L106.01 413.46 L106.47 413.11 L106.94 412.77 L107.40 412.43 L107.86 412.08 L108.33 411.74 L108.79 411.40 L109.26 411.06 L109.72 410.72 L110.18 410.38 L110.65 410.04 L111.11 409.70 L111.58 409.36 L112.04 409.02 L112.50 408.68 L112.97 408.34 L113.43 408.00 L113.90 407.66 L114.36 407.32 L114.82 406.99 L115.29 406.65 L115.75 406.32 L116.22 405.98 L116.68 405.65 L117.14 405.31 L117.61 404.98 L118.07 404.65 L118.54 404.32 L119.00 403.99 L119.46 403.66 L119.93 403.34 L120.39 403.01 L120.86 402.69 L121.32 402.36 L121.78 402.04 L122.25 401.72 L122.71 401.40 L123.18 401.07 L123.64 400.75 L124.10 400.44 L124.57 400.12 L125.03 399.80 L125.50 399.48 L125.96 399.17 L126.42 398.85 L126.89 398.54 L127.35 398.22 L127.82 397.91 L128.28 397.60 L128.74 397.29 L129.21 396.98 L129.67 396.67 L130.14 396.35 L130.60 396.03 L131.06 395.70 L131.53 395.38 L131.99 395.06 L132.46 394.74 L132.92 394.42 L133.38 394.10 L133.85 393.78 L134.31 393.46 L134.78 393.14 L135.24 392.82 L135.70 392.50 L136.17 392.18 L136.63 391.86 L137.10 391.55 L137.56 391.23 L138.02 390.91 L138.49 390.59 L138.95 390.27 L139.42 389.95 L139.88 389.64 L140.35 389.32 L140.81 389.00 L141.27 388.68 L141.74 388.36 L142.20 388.05 L142.67 387.73 L143.13 387.41 L143.59 387.10" stroke="#f20000" stroke-width="4.0"/>
<path d="M77.40 433.19 L77.87 432.80 L78.35 432.40 L78.82 432.00 L79.29 431.60 L79.77 431.20 L80.24 430.80 L80.71 430.40 L81.19 430.00 L81.66 429.60 L82.14 429.21 L82.61 428.81 L83.08 428.41 L83.56 428.01 L84.03 427.61 L84.50 427.21 L84.98 426.81 L85.45 426.42 L85.92 426.02 L86.40 425.62 L86.87 425.22 L87.34 424.82 L87.82 424.43 L88.29 424.03 L88.76 423.63 L89.24 423.23 L89.71 422.83 L90.18 422.44 L90.66 422.04 L91.13 421.64 L91.61 421.24 L92.08 420.85 L92.55 420.45 L93.03 420.05 L93.50 419.66 L93.97 419.26 L94.45 418.86 L94.92 418.47 L95.39 418.07 L95.87 417.67 L96.34 417.28 L96.81 416.88 L97.29 416.49 L97.76 416.09 L98.23 415.69 L98.71 415.30 L99.18 414.90 L99.65 414.51 L100.13 414.11 L100.60 413.72 L101.08 413.32 L101.55 412.93 L102.02 412.53 L102.50 412.14 L102.97 411.74 L103.44 411.35 L103.92 410.96 L104.39 410.56 L104.86 410.17 L105.34 409.77 L105.81 409.38 L106.28 408.99 L106.76 408.59 L107.23 408.20 L107.70 407.81 L108.18 407.42 L108.65 407.02 L109.12 406.63 L109.60 406.24 L110.07 405.85 L110.55 405.46 L111.02 405.06 L111.49 404.67 L111.97 404.28 L112.44 403.89 L112.91 403.50 L113.39 403.11 L113.86 402.72 L114.33 402.33 L114.81 401.94 L115.28 401.55 L115.75 401.16 L116.23 400.77 L116.70 400.38 L117.17 399.99 L117.65 399.60 L118.12 399.22 L118.59 398.83 L119.07 398.44 L119.54 398.05 L120.02 397.66 L120.49 397.28 L120.96 396.89 L121.44 396.50 L121.91 396.11 L122.38 395.73 L122.86 395.34 L123.33 394.96 L123.80 394.57 L124.28 394.18 L124.75 393.80 L125.22 393.41 L125.70 393.03 L126.17 392.64 L126.64 392.26 L127.12 391.88 L127.59 391.49 L128.06 391.11 L128.54 390.73 L129.01 390.34 L129.49 389.96 L129.96 389.58 L130.43 389.20 L130.91 388.81 L131.38 388.43 L131.85 388.05 L132.33 387.67 L132.80 387.29 L133.27 386.91 L133.75 386.53 L134.22 386.15 L134.69 385.77 L135.17 385.39 L135.64 385.01 L136.11 384.63 L136.59 384.25 L137.06 383.87 L137.53 383.49 L138.01 383.12 L138.48 382.74 L138.96 382.36 L139.43 381.99 L139.90 381.61 L140.38 381.23 L140.85 380.86 L141.32 380.48 L141.80 380.11 L142.27 379.73 L142.74 379.36 L143.22 378.98 L143.69 378.61 L144.16 378.23 L144.64 377.86 L145.11 377.49 L145.58 377.11 L146.06 376.74 L146.53 376.37 L147.00 376.00 L147.48 375.63 L147.95 375.26 L148.43 374.89 L148.90 374.51 L149.37 374.14 L149.85 373.78 L150.32 373.41 L150.79 373.04 L151.27 372.67 L151.74 372.30 L152.21 371.93 L152.69 371.56 L153.16 371.20 L153.63 370.83 L154.11 370.46 L154.58 370.10 L155.05 369.73 L155.53 369.37 L156.00 369.00 L156.47 368.64 L156.95 368.27 L157.42 367.91 L157.90 367.55 L158.37 367.18 L158.84 366.82 L159.32 366.46 L159.79 366.10 L160.26 365.74 L160.74 365.37 L161.21 365.01 L161.68 364.65 L162.16 364.29 L162.63 363.93 L163.10 363.57 L163.58 363.22 L164.05 362.86 L164.52 362.50 L165.00 362.14 L165.47 361.79 L165.94 361.43 L166.42 361.07 L166.89 360.72 L167.37 360.36 L167.84 360.01 L168.31 359.65 L168.79 359.30 L169.26 358.95 L169.73 358.59 L170.21 358.24 L170.68 357.89 L171.15 357.54 L171.63 357.19 L172.10 356.83 L172.57 356.48 L173.05 356.13 L173.52 355.79 L173.99 355.44 L174.47 355.09 L174.94 354.74 L175.41 354.39 L175.89 354.05 L176.36 353.70 L176.84 353.35 L177.31 353.01 L177.78 352.66 L178.26 352.32 L178.73 351.97 L179.20 351.63 L179.68 351.29 L180.15 350.94 L180.62 350.60 L181.10 350.26 L181.57 349.92 L182.04 349.58 L182.52 349.24 L182.99 348.90 L183.46 348.56 L183.94 348.22 L184.41 347.88 L184.88 347.55 L185.36 347.21 L185.83 346.87 L186.31 346.54 L186.78 346.20 L187.25 345.87 L187.73 345.53 L188.20 345.20 L188.67 344.87 L189.15 344.53 L189.62 344.20 L190.09 343.87 L190.57 343.54 L191.04 343.21 L191.51 342.88 L191.99 342.55 L192.46 342.22 L192.93 341.89 L193.41 341.57 L193.88 341.24 L194.35 340.91 L194.83 340.59 L195.30 340.26 L195.78 339.94 L196.25 339.61 L196.72 339.29 L197.20 338.97 L197.67 338.65 L198.14 338.32 L198.62 338.00 L199.09 337.68 L199.56 337.36 L200.04 337.04 L200.51 336.72 L200.98 336.41 L201.46 336.09 L201.93 335.77 L202.40 335.45 L202.88 335.14 L203.35 334.82 L203.82 334.51 L204.30 334.19 L204.77 333.88 L205.25 333.57 L205.72 333.26 L206.19 332.94 L206.67 332.63 L207.14 332.32 L207.61 332.01 L208.09 331.70 L208.56 331.40 L209.03 331.09 L209.51 330.78 L209.98 330.47 L210.45 330.17 L210.93 329.86 L211.40 329.56 L211.87 329.25 L212.35 328.95 L212.82 328.65 L213.29 328.34 L213.77 328.04 L214.24 327.74 L214.72 327.44 L215.19 327.14 L215.66 326.84 L216.14 326.54 L216.61 326.24 L217.08 325.94 L217.56 325.65 L218.03 325.35 L218.50 325.05 L218.98 324.76 L219.45 324.46 L219.92 324.17 L220.40 323.87 L220.87 323.58 L221.34 323.29 L221.82 323.00 L222.29 322.70 L222.76 322.41 L223.24 322.12 L223.71 321.83 L224.19 321.54 L224.66 321.25 L225.13 320.97 L225.61 320.68 L226.08 320.39 L226.55 320.10 L227.03 319.82 L227.50 319.53 L227.97 319.25 L228.45 318.96 L228.92 318.68 L229.39 318.39 L229.87 318.11 L230.34 317.83 L230.81 317.55 L231.29 317.26 L231.76 316.98 L232.23 316.70 L232.71 316.42 L233.18 316.14 L233.66 315.86 L234.13 315.58 L234.60 315.31 L235.08 315.03 L235.55 314.75 L236.02 314.47 L236.50 314.20 L236.97 313.92 L237.44 313.65 L237.92 313.37 L238.39 313.10 L238.86 312.82 L239.34 312.55 L239.81 312.28 L240.28 312.00 L240.76 311.73 L241.23 311.46 L241.70 311.19 L242.18 310.92 L242.65 310.65 L243.13 310.38 L243.60 310.11 L244.07 309.84 L244.55 309.57 L245.02 309.30 L245.49 309.03 L245.97 308.76 L246.44 308.49 L246.91 308.23 L247.39 307.96 L247.86 307.69 L248.33 307.43 L248.81 307.16 L249.28 306.90 L249.75 306.63 L250.23 306.37 L250.70 306.11 L251.17 305.84 L251.65 305.58 L252.12 305.32 L252.60 305.05 L253.07 304.79 L253.54 304.53 L254.02 304.27 L254.49 304.01 L254.96 303.75 L255.44 303.49 L255.91 303.23 L256.38 302.97 L256.86 302.71 L257.33 302.45 L257.80 302.19 L258.28 301.93 L258.75 301.68 L259.22 301.42 L259.70 301.16 L260.17 300.91 L260.64 300.65 L261.12 300.39 L261.59 300.14 L262.07 299.88 L262.54 299.63 L263.01 299.38 L263.49 299.12 L263.96 298.87 L264.43 298.62 L264.91 298.36 L265.38 298.11 L265.85 297.86 L266.33 297.61 L266.80 297.36 L267.27 297.11 L267.75 296.86 L268.22 296.61 L268.69 296.36 L269.17 296.11 L269.64 295.86 L270.11 295.61 L270.59 295.37 L271.06 295.12 L271.54 294.87 L272.01 294.63 L272.48 294.38 L272.96 294.14 L273.43 293.89 L273.90 293.65 L274.38 293.40 L274.85 293.16 L275.32 292.92 L275.80 292.68 L276.27 292.43 L276.74 292.19 L277.22 291.95 L277.69 291.71 L278.16 291.47 L278.64 291.23 L279.11 290.99 L279.58 290.76 L280.06 290.52 L280.53 290.28 L281.00 290.05 L281.48 289.81 L281.95 289.57 L282.43 289.34 L282.90 289.10 L283.37 288.87 L283.85 288.64 L284.32 288.40 L284.79 288.17 L285.27 287.94 L285.74 287.71 L286.21 287.48 L286.69 287.25 L287.16 287.02 L287.63 286.79 L288.11 286.56 L288.58 286.34 L289.05 286.11 L289.53 285.88 L290.00 285.66 L290.48 285.43 L290.95 285.21 L291.42 284.99 L291.90 284.76 L292.37 284.54 L292.84 284.32 L293.32 284.10 L293.79 283.88 L294.26 283.66 L294.74 283.44 L295.21 283.22 L295.68 283.00 L296.16 282.79 L296.63 282.57 L297.10 282.36 L297.58 282.14 L298.05 281.93 L298.52 281.71 L299.00 281.50 L299.47 281.29 L299.95 281.08 L300.42 280.87 L300.89 280.66 L301.37 280.45 L301.84 280.24 L302.31 280.03 L302.79 279.82 L303.26 279.62 L303.73 279.41 L304.21 279.21 L304.68 279.00 L305.15 278.80 L305.63 278.60 L306.10 278.39 L306.57 278.19 L307.05 277.99 L307.52 277.79 L307.99 277.59 L308.47 277.40 L308.94 277.20 L309.42 277.00 L309.89 276.80 L310.36 276.61 L310.84 276.41 L311.31 276.22 L311.78 276.03 L312.26 275.84 L312.73 275.64 L313.20 275.45 L313.68 275.26 L314.15 275.07 L314.62 274.89 L315.10 274.70 L315.57 274.51 L316.04 274.32 L316.52 274.14 L316.99 273.95 L317.46 273.77 L317.94 273.59 L318.41 273.40 L318.88 273.22 L319.36 273.04 L319.83 272.86 L320.31 272.68 L320.78 272.50 L321.25 272.32 L321.73 272.15 L322.20 271.97 L322.67 271.79 L323.15 271.62 L323.62 271.45 L324.09 271.27 L324.57 271.10 L325.04 270.93 L325.51 270.76 L325.99 270.58 L326.46 270.41 L326.93 270.25 L327.41 270.08 L327.88 269.91 L328.36 269.74 L328.83 269.58 L329.30 269.41 L329.78 269.25 L330.25 269.08 L330.72 268.92 L331.20 268.76 L331.67 268.59 L332.14 268.43 L332.62 268.27 L333.09 268.11 L333.56 267.95 L334.04 267.80 L334.51 267.64 L334.98 267.48 L335.46 267.33 L335.93 267.17 L336.40 267.02 L336.88 266.86 L337.35 266.71 L337.83 266.56 L338.30 266.41 L338.77 266.25 L339.25 266.10 L339.72 265.95 L340.19 265.81 L340.67 265.66 L341.14 265.51 L341.61 265.36 L342.09 265.22 L342.56 265.07 L343.03 264.93 L343.51 264.78 L343.98 264.64 L344.45 264.50 L344.93 264.36 L345.40 264.21 L345.87 264.07 L346.35 263.93 L346.82 263.79 L347.30 263.66 L347.77 263.52 L348.24 263.38 L348.72 263.24 L349.19 263.11 L349.66 262.97 L350.14 262.84 L350.61 262.71 L351.08 262.57 L351.56 262.44 L352.03 262.31 L352.50 262.18 L352.98 262.05 L353.45 261.92 L353.92 261.79 L354.40 261.66 L354.87 261.53 L355.34 261.41 L355.82 261.28 L356.29 261.15 L356.76 261.03 L357.24 260.91 L357.71 260.78 L358.19 260.66 L358.66 260.54 L359.13 260.41 L359.61 260.29 L360.08 260.17 L360.55 260.05 L361.03 259.93 L361.50 259.82" stroke="#000" stroke-width="2.5"/>
<circle cx="91.61" cy="423.00" r="5.1" stroke="#0b5f1e" stroke-width="0.8"/>
<circle cx="120.02" cy="403.40" r="5.1" stroke="#0b5f1e" stroke-width="0.8"/>
<circle cx="148.43" cy="383.85" r="5.1" stroke="#0b5f1e" stroke-width="0.8"/>
<circle cx="176.84" cy="364.60" r="5.1" stroke="#0b5f1e" stroke-width="0.8"/>
<circle cx="205.25" cy="346.70" r="5.1" stroke="#0b5f1e" stroke-width="0.8"/>
<circle cx="233.66" cy="329.60" r="5.1" stroke="#0b5f1e" stroke-width="0.8"/>
<circle cx="262.07" cy="313.60" r="5.1" stroke="#0b5f1e" stroke-width="0.8"/>
<circle cx="290.48" cy="299.10" r="5.1" stroke="#0b5f1e" stroke-width="0.8"/>
<circle cx="318.88" cy="286.50" r="5.1" stroke="#0b5f1e" stroke-width="0.8"/>
<circle cx="347.30" cy="275.00" r="5.1" stroke="#0b5f1e" stroke-width="0.8"/>
</g>
<path d="M86.87 433.2v-5.7M86.87 245.0v5.7M96.34 433.2v-5.7M96.34 245.0v5.7M105.81 433.2v-5.7M105.81 245.0v5.7M115.28 433.2v-5.7M115.28 245.0v5.7M124.75 433.2v-10.5M124.75 245.0v10.5M134.22 433.2v-5.7M134.22 245.0v5.7M143.69 433.2v-5.7M143.69 245.0v5.7M153.16 433.2v-5.7M153.16 245.0v5.7M162.63 433.2v-5.7M162.63 245.0v5.7M172.10 433.2v-10.5M172.10 245.0v10.5M181.57 433.2v-5.7M181.57 245.0v5.7M191.04 433.2v-5.7M191.04 245.0v5.7M200.51 433.2v-5.7M200.51 245.0v5.7M209.98 433.2v-5.7M209.98 245.0v5.7M219.45 433.2v-10.5M219.45 245.0v10.5M228.92 433.2v-5.7M228.92 245.0v5.7M238.39 433.2v-5.7M238.39 245.0v5.7M247.86 433.2v-5.7M247.86 245.0v5.7M257.33 433.2v-5.7M257.33 245.0v5.7M266.80 433.2v-10.5M266.80 245.0v10.5M276.27 433.2v-5.7M276.27 245.0v5.7M285.74 433.2v-5.7M285.74 245.0v5.7M295.21 433.2v-5.7M295.21 245.0v5.7M304.68 433.2v-5.7M304.68 245.0v5.7M314.15 433.2v-10.5M314.15 245.0v10.5M323.62 433.2v-5.7M323.62 245.0v5.7M333.09 433.2v-5.7M333.09 245.0v5.7M342.56 433.2v-5.7M342.56 245.0v5.7M352.03 433.2v-5.7M352.03 245.0v5.7M77.4 425.67h5.7M361.5 425.67h-5.7M77.4 418.14h5.7M361.5 418.14h-5.7M77.4 410.62h5.7M361.5 410.62h-5.7M77.4 403.09h5.7M361.5 403.09h-5.7M77.4 395.56h10.5M361.5 395.56h-10.5M77.4 388.03h5.7M361.5 388.03h-5.7M77.4 380.50h5.7M361.5 380.50h-5.7M77.4 372.98h5.7M361.5 372.98h-5.7M77.4 365.45h5.7M361.5 365.45h-5.7M77.4 357.92h10.5M361.5 357.92h-10.5M77.4 350.39h5.7M361.5 350.39h-5.7M77.4 342.86h5.7M361.5 342.86h-5.7M77.4 335.34h5.7M361.5 335.34h-5.7M77.4 327.81h5.7M361.5 327.81h-5.7M77.4 320.28h10.5M361.5 320.28h-10.5M77.4 312.75h5.7M361.5 312.75h-5.7M77.4 305.22h5.7M361.5 305.22h-5.7M77.4 297.70h5.7M361.5 297.70h-5.7M77.4 290.17h5.7M361.5 290.17h-5.7M77.4 282.64h10.5M361.5 282.64h-10.5M77.4 275.11h5.7M361.5 275.11h-5.7M77.4 267.58h5.7M361.5 267.58h-5.7M77.4 260.06h5.7M361.5 260.06h-5.7M77.4 252.53h5.7M361.5 252.53h-5.7" stroke="#484848" stroke-width="0.9" fill="none"/>
<rect x="77.4" y="245.0" width="284.10" height="188.20" fill="none" stroke="#2e2e2e" stroke-width="1"/>
<g font-family="'Liberation Serif', serif" font-size="20px" fill="#000">
<text x="72" y="215.40" text-anchor="end">0</text>
<text x="72" y="183.90" text-anchor="end">0.1</text>
<text x="72" y="152.70" text-anchor="end">0.2</text>
<text x="72" y="121.10" text-anchor="end">0.3</text>
<text x="72" y="89.90" text-anchor="end">0.4</text>
<text x="72" y="58.10" text-anchor="end">0.5</text>
<text x="72" y="27.30" text-anchor="end">0.6</text>
<text x="70.4" y="436.00" text-anchor="end">0</text>
<text x="70.4" y="398.36" text-anchor="end">0.1</text>
<text x="70.4" y="360.32" text-anchor="end">0.2</text>
<text x="70.4" y="322.68" text-anchor="end">0.3</text>
<text x="70.4" y="285.04" text-anchor="end">0.4</text>
<text x="70.4" y="246.50" text-anchor="end">0.5</text>
<text x="79.10" y="232.6" text-anchor="middle">0</text>
<text x="77.80" y="453.3" text-anchor="middle">0</text>
<text x="126.08" y="232.6" text-anchor="middle">10</text>
<text x="124.75" y="453.3" text-anchor="middle">10</text>
<text x="173.47" y="232.6" text-anchor="middle">20</text>
<text x="172.10" y="453.3" text-anchor="middle">20</text>
<text x="220.85" y="232.6" text-anchor="middle">30</text>
<text x="219.45" y="453.3" text-anchor="middle">30</text>
<text x="268.23" y="232.6" text-anchor="middle">40</text>
<text x="266.80" y="453.3" text-anchor="middle">40</text>
<text x="315.62" y="232.6" text-anchor="middle">50</text>
<text x="314.15" y="453.3" text-anchor="middle">50</text>
<text x="363.00" y="232.6" text-anchor="middle">60</text>
<text x="361.50" y="453.3" text-anchor="middle">60</text>
<text x="221.3" y="476.8" text-anchor="middle">Magnetic field (T)</text>
<text transform="translate(28.7,119.4) rotate(-90)" text-anchor="middle">M (μ<tspan font-size="13px" dy="8.4" dx="2.5">B</tspan><tspan dy="-8.4" dx="-0.5">/Cu)</tspan></text>
<text transform="translate(27.9,340.0) rotate(-90)" text-anchor="middle">M (μ<tspan font-size="13px" dy="8.4" dx="2.5">B</tspan><tspan dy="-8.4" dx="-0.5">/Cu)</tspan></text>
<text x="91" y="51.8">(a)</text>
<text x="90.3" y="273.3">(b)</text>
<g fill="#000"><text x="138.2" y="39.1">w/o</text><path transform="translate(138.20,39.1)" d="M40.7 -13.2L37.5 -0.2C37 2.1 36.3 3.5 35 3.5C34.2 3.5 33.6 3.3 33 2.8" fill="none" stroke="#000" stroke-width="1.65"/><text x="179.90" y="43.4" font-family="'Liberation Sans', sans-serif" font-size="14.2px" textLength="17.2" lengthAdjust="spacing" stroke="#000" stroke-width="0.25">eff</text></g>
<g fill="#0f801c"><text x="309.3" y="37.5">w/</text><path transform="translate(299.30,37.5)" d="M40.7 -13.2L37.5 -0.2C37 2.1 36.3 3.5 35 3.5C34.2 3.5 33.6 3.3 33 2.8" fill="none" stroke="#0f801c" stroke-width="1.65"/><text x="341.00" y="41.8" font-family="'Liberation Sans', sans-serif" font-size="14.2px" textLength="17.2" lengthAdjust="spacing" stroke="#0f801c" stroke-width="0.25">eff</text></g>
<g fill="#000"><text x="178.6" y="284.5">w/o</text><path transform="translate(178.60,284.5)" d="M40.7 -13.2L37.5 -0.2C37 2.1 36.3 3.5 35 3.5C34.2 3.5 33.6 3.3 33 2.8" fill="none" stroke="#000" stroke-width="1.65"/><text x="220.30" y="288.8" font-family="'Liberation Sans', sans-serif" font-size="14.2px" textLength="17.2" lengthAdjust="spacing" stroke="#000" stroke-width="0.25">eff</text></g>
<g fill="#0f801c"><text x="296.3" y="320.2">w/</text><path transform="translate(286.30,320.2)" d="M40.7 -13.2L37.5 -0.2C37 2.1 36.3 3.5 35 3.5C34.2 3.5 33.6 3.3 33 2.8" fill="none" stroke="#0f801c" stroke-width="1.65"/><text x="328.00" y="324.5" font-family="'Liberation Sans', sans-serif" font-size="14.2px" textLength="17.2" lengthAdjust="spacing" stroke="#0f801c" stroke-width="0.25">eff</text></g>
<text x="315.6" y="78.8" fill="#0000ff">Cu2</text>
<text x="315.1" y="195.1" fill="#f20000">Cu1</text>
<text x="195.5" y="130.9" fill="#f20000">Exp. 1.3 K</text>
<text x="221.8" y="366.7" fill="#f20000">Exp. 30K</text>
</g>
</svg>
</body></html>
